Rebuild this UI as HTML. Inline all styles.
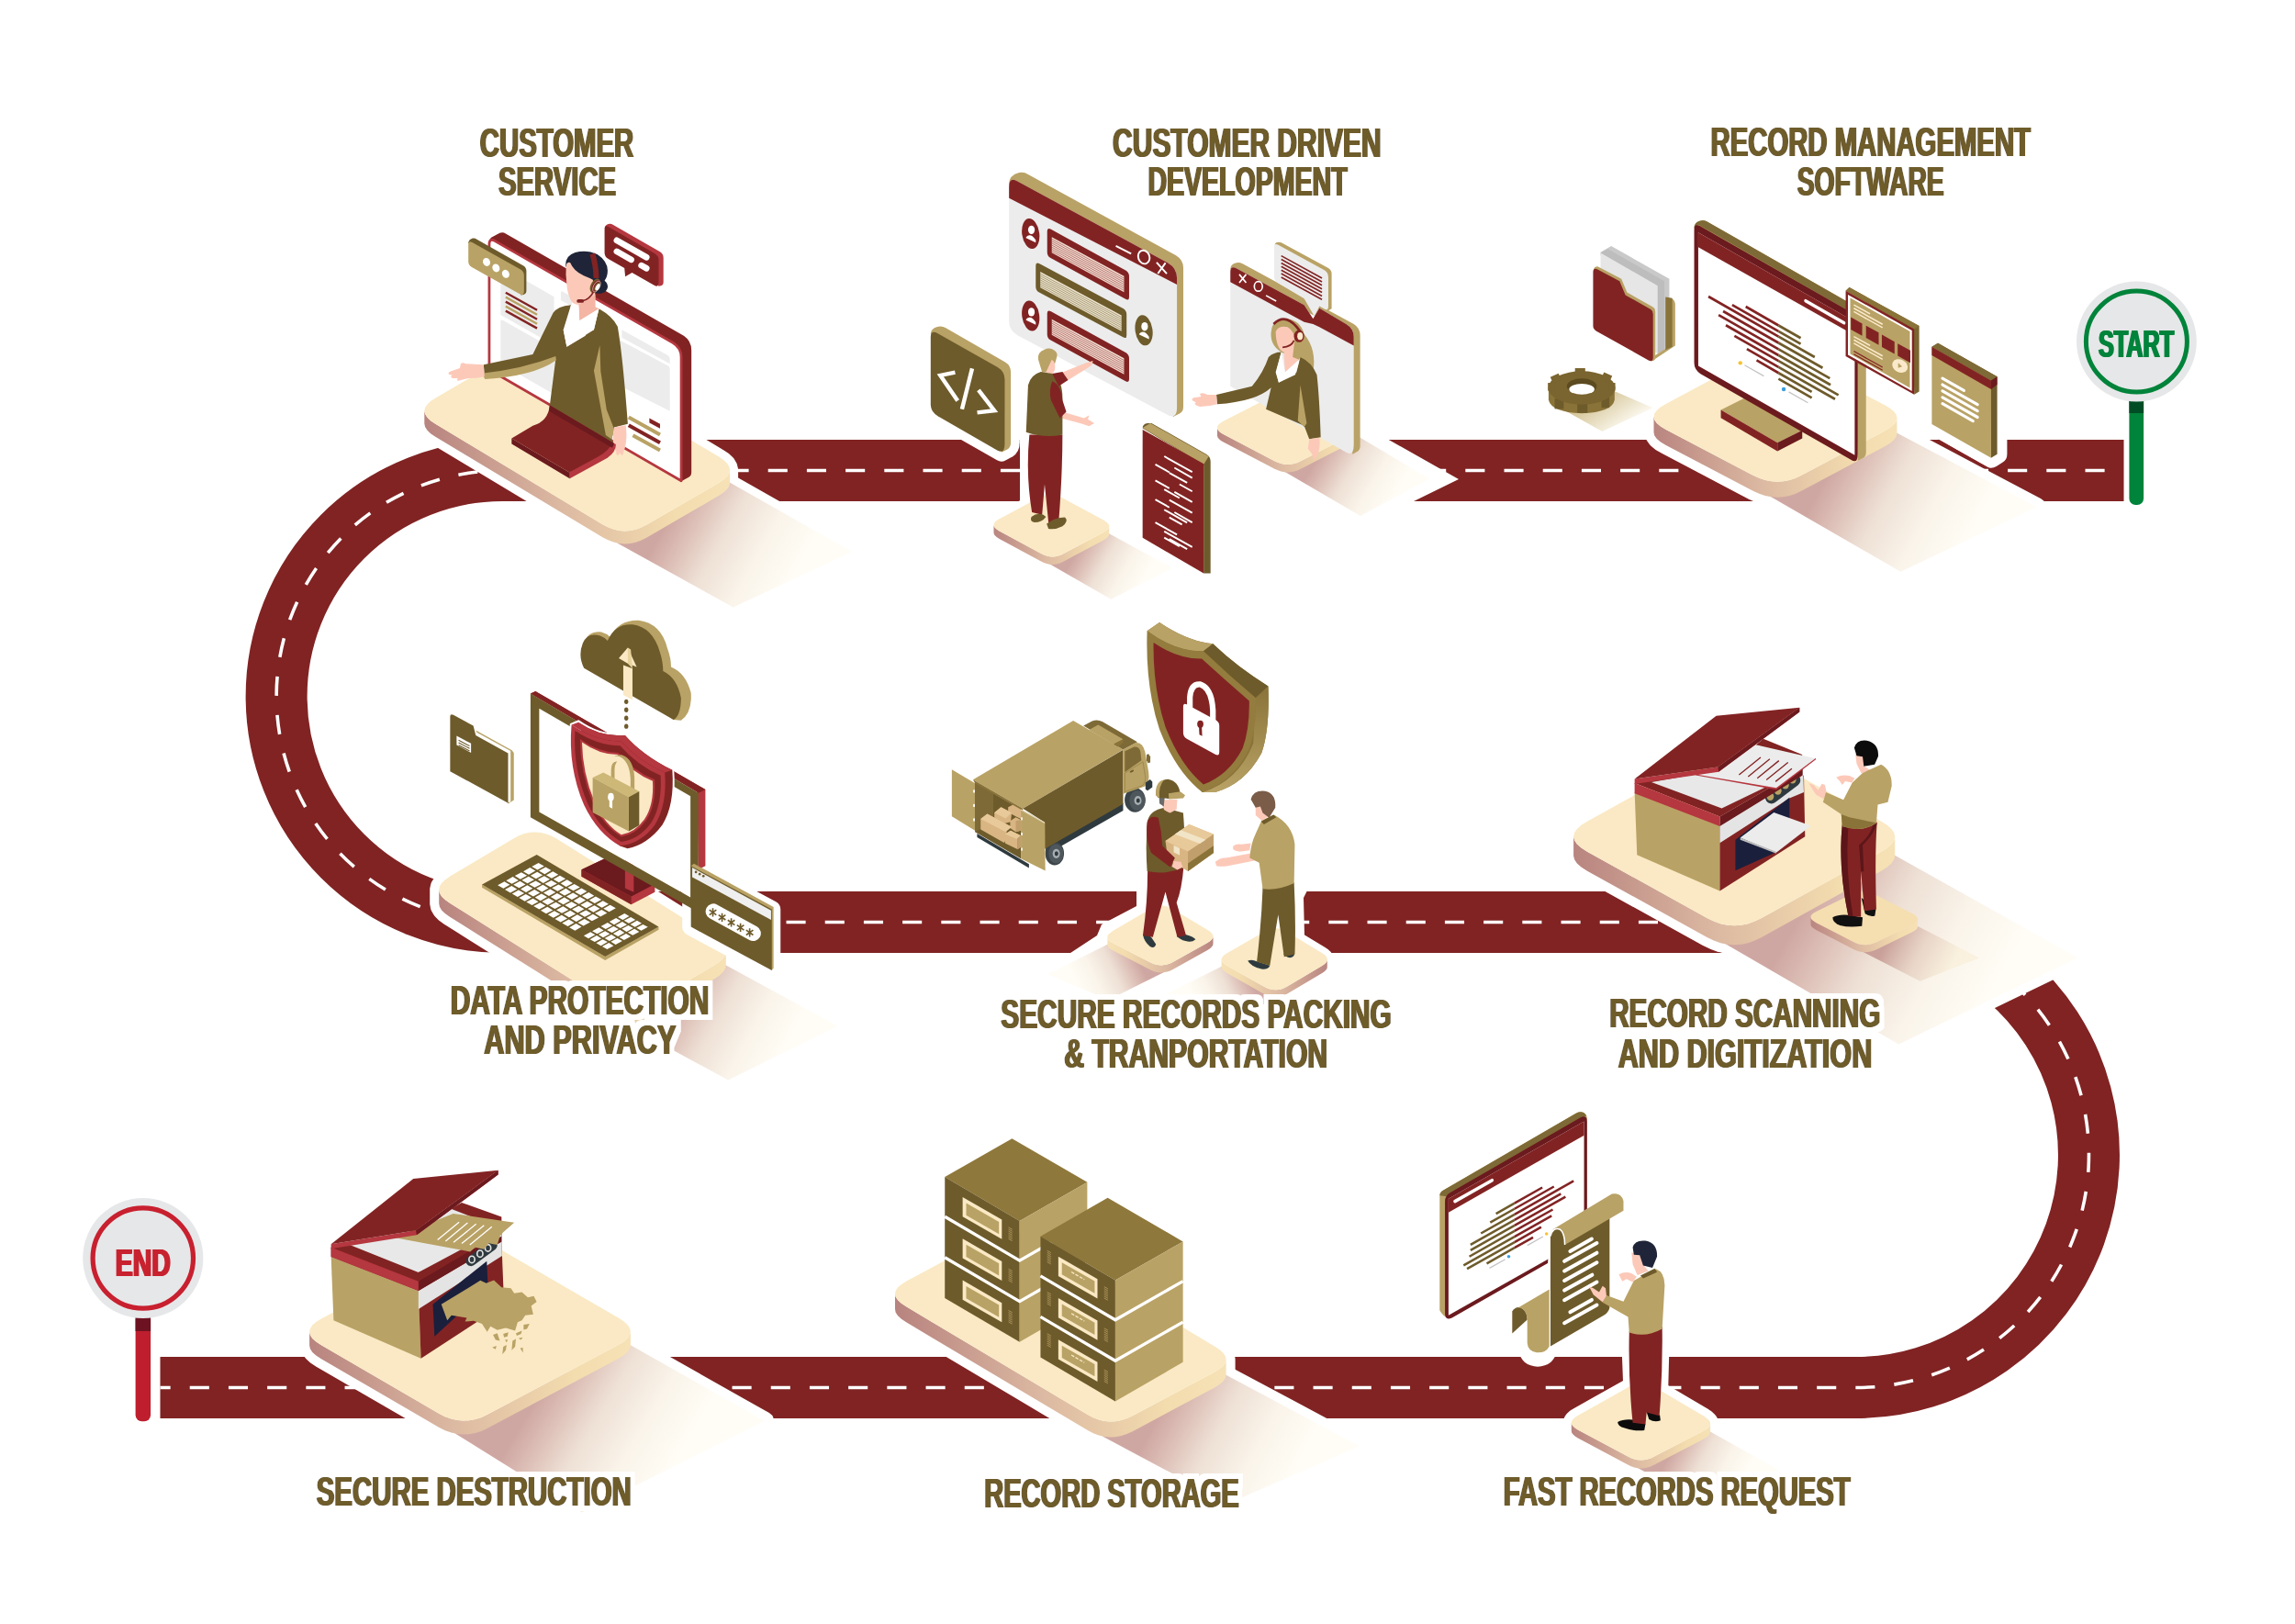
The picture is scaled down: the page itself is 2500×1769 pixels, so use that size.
<!DOCTYPE html>
<html><head><meta charset="utf-8"><title>Records lifecycle</title>
<style>html,body{margin:0;padding:0;background:#fff}svg{display:block}text{font-family:"Liberation Sans",sans-serif;font-weight:bold}</style>
</head><body>
<svg width="2500" height="1769" viewBox="0 0 2500 1769">
<defs>
<filter id="lbl" x="-5%" y="-40%" width="110%" height="180%"><feMorphology in="SourceAlpha" operator="dilate" radius="6" result="d"/><feFlood flood-color="#fff"/><feComposite in2="d" operator="in" result="halo"/><feOffset in="SourceGraphic" dx="1.0" result="a"/><feOffset in="SourceGraphic" dx="-1.0" result="b"/><feMerge><feMergeNode in="halo"/><feMergeNode in="a"/><feMergeNode in="b"/><feMergeNode in="SourceGraphic"/></feMerge></filter>
<filter id="fat" x="-5%" y="-20%" width="110%" height="140%"><feOffset in="SourceGraphic" dx="1" result="a"/><feOffset in="SourceGraphic" dx="-1" result="b"/><feMerge><feMergeNode in="a"/><feMergeNode in="b"/><feMergeNode in="SourceGraphic"/></feMerge></filter>
<linearGradient id="pg1" gradientUnits="userSpaceOnUse" x1="450" y1="0" x2="807" y2="0"><stop offset="0" stop-color="#b57f7c"/><stop offset="0.45" stop-color="#dcb9a2"/><stop offset="0.8" stop-color="#f3dcae"/><stop offset="1" stop-color="#f7e3b8"/></linearGradient>
<linearGradient id="sg1" gradientUnits="userSpaceOnUse" x1="733" y1="558" x2="863" y2="631"><stop offset="0" stop-color="#cfa7a2"/><stop offset="0.15" stop-color="#dbbcb4"/><stop offset="0.4" stop-color="#eee0d5"/><stop offset="0.7" stop-color="#faf4ea"/><stop offset="1" stop-color="#fffdf6"/></linearGradient>
<linearGradient id="pg2" gradientUnits="userSpaceOnUse" x1="1076" y1="0" x2="1214" y2="0"><stop offset="0" stop-color="#b57f7c"/><stop offset="0.45" stop-color="#dcb9a2"/><stop offset="0.8" stop-color="#f3dcae"/><stop offset="1" stop-color="#f7e3b8"/></linearGradient>
<linearGradient id="sg2" gradientUnits="userSpaceOnUse" x1="1175" y1="597" x2="1244" y2="636"><stop offset="0" stop-color="#cfa7a2"/><stop offset="0.15" stop-color="#dbbcb4"/><stop offset="0.4" stop-color="#eee0d5"/><stop offset="0.7" stop-color="#faf4ea"/><stop offset="1" stop-color="#fffdf6"/></linearGradient>
<linearGradient id="pg3" gradientUnits="userSpaceOnUse" x1="1319" y1="0" x2="1486" y2="0"><stop offset="0" stop-color="#b57f7c"/><stop offset="0.45" stop-color="#dcb9a2"/><stop offset="0.8" stop-color="#f3dcae"/><stop offset="1" stop-color="#f7e3b8"/></linearGradient>
<linearGradient id="sg3" gradientUnits="userSpaceOnUse" x1="1438" y1="494" x2="1519" y2="542"><stop offset="0" stop-color="#cfa7a2"/><stop offset="0.15" stop-color="#dbbcb4"/><stop offset="0.4" stop-color="#eee0d5"/><stop offset="0.7" stop-color="#faf4ea"/><stop offset="1" stop-color="#fffdf6"/></linearGradient>
<linearGradient id="pg4" gradientUnits="userSpaceOnUse" x1="1788" y1="0" x2="2080" y2="0"><stop offset="0" stop-color="#b57f7c"/><stop offset="0.45" stop-color="#dcb9a2"/><stop offset="0.8" stop-color="#f3dcae"/><stop offset="1" stop-color="#f7e3b8"/></linearGradient>
<linearGradient id="sg4" gradientUnits="userSpaceOnUse" x1="1997" y1="506" x2="2145" y2="587"><stop offset="0" stop-color="#cfa7a2"/><stop offset="0.15" stop-color="#dbbcb4"/><stop offset="0.4" stop-color="#eee0d5"/><stop offset="0.7" stop-color="#faf4ea"/><stop offset="1" stop-color="#fffdf6"/></linearGradient>
<linearGradient id="pg5" gradientUnits="userSpaceOnUse" x1="466" y1="0" x2="803" y2="0"><stop offset="0" stop-color="#b57f7c"/><stop offset="0.45" stop-color="#dcb9a2"/><stop offset="0.8" stop-color="#f3dcae"/><stop offset="1" stop-color="#f7e3b8"/></linearGradient>
<linearGradient id="sg5" gradientUnits="userSpaceOnUse" x1="734" y1="1082" x2="853" y2="1147"><stop offset="0" stop-color="#cfa7a2"/><stop offset="0.15" stop-color="#dbbcb4"/><stop offset="0.4" stop-color="#eee0d5"/><stop offset="0.7" stop-color="#faf4ea"/><stop offset="1" stop-color="#fffdf6"/></linearGradient>
<linearGradient id="pg6" gradientUnits="userSpaceOnUse" x1="1328" y1="0" x2="1200" y2="0"><stop offset="0" stop-color="#b57f7c"/><stop offset="0.45" stop-color="#dcb9a2"/><stop offset="0.8" stop-color="#f3dcae"/><stop offset="1" stop-color="#f7e3b8"/></linearGradient>
<linearGradient id="sg6" gradientUnits="userSpaceOnUse" x1="1238" y1="1043" x2="1174" y2="1075"><stop offset="0" stop-color="#cfa7a2"/><stop offset="0.15" stop-color="#dbbcb4"/><stop offset="0.4" stop-color="#eee0d5"/><stop offset="0.7" stop-color="#faf4ea"/><stop offset="1" stop-color="#fffdf6"/></linearGradient>
<linearGradient id="pg7" gradientUnits="userSpaceOnUse" x1="1452" y1="0" x2="1325" y2="0"><stop offset="0" stop-color="#b57f7c"/><stop offset="0.45" stop-color="#dcb9a2"/><stop offset="0.8" stop-color="#f3dcae"/><stop offset="1" stop-color="#f7e3b8"/></linearGradient>
<linearGradient id="sg7" gradientUnits="userSpaceOnUse" x1="1363" y1="1069" x2="1304" y2="1098"><stop offset="0" stop-color="#cfa7a2"/><stop offset="0.15" stop-color="#dbbcb4"/><stop offset="0.4" stop-color="#eee0d5"/><stop offset="0.7" stop-color="#faf4ea"/><stop offset="1" stop-color="#fffdf6"/></linearGradient>
<linearGradient id="pg8" gradientUnits="userSpaceOnUse" x1="1699" y1="0" x2="2079" y2="0"><stop offset="0" stop-color="#b57f7c"/><stop offset="0.45" stop-color="#dcb9a2"/><stop offset="0.8" stop-color="#f3dcae"/><stop offset="1" stop-color="#f7e3b8"/></linearGradient>
<linearGradient id="sg8" gradientUnits="userSpaceOnUse" x1="1971" y1="980" x2="2166" y2="1090"><stop offset="0" stop-color="#cfa7a2"/><stop offset="0.15" stop-color="#dbbcb4"/><stop offset="0.4" stop-color="#eee0d5"/><stop offset="0.7" stop-color="#faf4ea"/><stop offset="1" stop-color="#fffdf6"/></linearGradient>
<linearGradient id="pg9" gradientUnits="userSpaceOnUse" x1="1966" y1="0" x2="2095" y2="0"><stop offset="0" stop-color="#b57f7c"/><stop offset="0.45" stop-color="#dcb9a2"/><stop offset="0.8" stop-color="#f3dcae"/><stop offset="1" stop-color="#f7e3b8"/></linearGradient>
<linearGradient id="sg9" gradientUnits="userSpaceOnUse" x1="2058" y1="1022" x2="2124" y2="1056"><stop offset="0" stop-color="#b98580" stop-opacity="0.7"/><stop offset="0.5" stop-color="#dcbfae" stop-opacity="0.5"/><stop offset="1" stop-color="#f8ecd2" stop-opacity="0.55"/></linearGradient>
<linearGradient id="pg10" gradientUnits="userSpaceOnUse" x1="1705" y1="0" x2="1870" y2="0"><stop offset="0" stop-color="#b57f7c"/><stop offset="0.45" stop-color="#dcb9a2"/><stop offset="0.8" stop-color="#f3dcae"/><stop offset="1" stop-color="#f7e3b8"/></linearGradient>
<linearGradient id="sg10" gradientUnits="userSpaceOnUse" x1="1822" y1="1579" x2="1895" y2="1619"><stop offset="0" stop-color="#cfa7a2"/><stop offset="0.15" stop-color="#dbbcb4"/><stop offset="0.4" stop-color="#eee0d5"/><stop offset="0.7" stop-color="#faf4ea"/><stop offset="1" stop-color="#fffdf6"/></linearGradient>
<linearGradient id="pg11" gradientUnits="userSpaceOnUse" x1="963" y1="0" x2="1348" y2="0"><stop offset="0" stop-color="#b57f7c"/><stop offset="0.45" stop-color="#dcb9a2"/><stop offset="0.8" stop-color="#f3dcae"/><stop offset="1" stop-color="#f7e3b8"/></linearGradient>
<linearGradient id="sg11" gradientUnits="userSpaceOnUse" x1="1268" y1="1531" x2="1409" y2="1606"><stop offset="0" stop-color="#cfa7a2"/><stop offset="0.15" stop-color="#dbbcb4"/><stop offset="0.4" stop-color="#eee0d5"/><stop offset="0.7" stop-color="#faf4ea"/><stop offset="1" stop-color="#fffdf6"/></linearGradient>
<linearGradient id="pg12" gradientUnits="userSpaceOnUse" x1="324" y1="0" x2="700" y2="0"><stop offset="0" stop-color="#b57f7c"/><stop offset="0.45" stop-color="#dcb9a2"/><stop offset="0.8" stop-color="#f3dcae"/><stop offset="1" stop-color="#f7e3b8"/></linearGradient>
<linearGradient id="sg12" gradientUnits="userSpaceOnUse" x1="591" y1="1513" x2="733" y2="1598"><stop offset="0" stop-color="#cfa7a2"/><stop offset="0.15" stop-color="#dbbcb4"/><stop offset="0.4" stop-color="#eee0d5"/><stop offset="0.7" stop-color="#faf4ea"/><stop offset="1" stop-color="#fffdf6"/></linearGradient>
<linearGradient id="shg" x1="0" y1="0" x2="0" y2="1"><stop offset="0" stop-color="#8a7338"/><stop offset="1" stop-color="#b9a265"/></linearGradient>
<linearGradient id="gearsh" x1="0.2" y1="0.2" x2="0.9" y2="0.7"><stop offset="0" stop-color="#c9b57e"/><stop offset="1" stop-color="#fffdf6"/></linearGradient>

</defs>
<rect width="2500" height="1769" fill="#fff"/>
<g fill="none" stroke="#812323" stroke-width="67">
<path d="M2313.5 512.5 H547 A246 246 0 0 0 547 1004.5 H1900"/><path d="M2184.9 1063.8 A253.5 253.5 0 0 1 2022 1511.5 H174.5"/>
</g>
<g fill="none" stroke="#fff" stroke-width="3.6" stroke-dasharray="21.1 21.1">
<path d="M2313.5 512.5 H547 A246 246 0 0 0 547 1004.5 H1900" stroke-dashoffset="-20.9"/><path d="M2184.9 1063.8 A253.5 253.5 0 0 1 2022 1511.5 H174.5" stroke-dashoffset="-8"/>
</g>
<path d="M1111 470 H1498 L1511 478 L1589 522 L1538 547 L1525 555 H1111 Z" fill="#fff"/>
<path d="M1238 960 L1238 987 L1200 1007 L1195 1019 L1160 1042 L1456 1042 L1421 1019 L1420 978 L1429 960 Z" fill="#fff"/>

<g id="start">
<rect x="2319.4" y="430" width="15.7" height="120" rx="7" fill="#00833a"/>
<rect x="2319.4" y="430" width="15.7" height="20" fill="#004d25"/>
<circle cx="2327.4" cy="372" r="65.4" fill="#e6e7e8"/>
<circle cx="2327.4" cy="372" r="55" fill="none" stroke="#00833a" stroke-width="5"/>
<text x="2286" y="388.5" font-size="42" textLength="82" lengthAdjust="spacingAndGlyphs" fill="#00833a" filter="url(#fat)">START</text>
</g>
<g id="end">
<rect x="147.6" y="1430" width="16.5" height="118.3" rx="7" fill="#be1e2d"/>
<rect x="147.6" y="1430" width="16.5" height="20" fill="#6d1220"/>
<circle cx="155.8" cy="1370.5" r="65.6" fill="#e6e7e8"/>
<circle cx="155.8" cy="1370.5" r="54.7" fill="none" stroke="#c8202f" stroke-width="5.2"/>
<text x="125.7" y="1389.7" font-size="42" textLength="60" lengthAdjust="spacingAndGlyphs" fill="#c8202f" filter="url(#fat)">END</text>
</g>

<path d="M474.3 461.8 L469.0 458.2 L465.3 454.6 L463.1 451.1 L462.3 447.5 L463.1 443.9 L465.4 440.4 L469.2 436.9 L474.5 433.4 L552.8 388.0 L558.8 385.0 L564.9 382.8 L570.9 381.5 L576.9 381.1 L583.0 381.6 L589.0 383.0 L595.0 385.2 L601.0 388.4 L783.1 497.6 L788.4 501.2 L792.1 504.8 L794.3 508.4 L795.1 511.9 L794.3 515.5 L792.0 519.0 L788.2 522.5 L782.9 526.1 L704.6 571.5 L698.6 574.6 L692.5 576.8 L686.5 578.1 L680.5 578.5 L674.4 578.0 L668.4 576.6 L662.4 574.3 L656.4 571.2Z M795.1 525.9 L794.3 529.5 L792.0 533.0 L788.2 536.5 L782.9 540.1 L704.6 585.5 L698.6 588.6 L692.5 590.8 L686.5 592.1 L680.5 592.5 L674.4 592.0 L668.4 590.6 L662.4 588.3 L656.4 585.2 L474.3 475.8 L469.0 472.2 L465.3 468.6 L463.1 465.1 L462.3 461.5 L462.3 447.5 L463.1 451.1 L465.3 454.6 L469.0 458.2 L474.3 461.8 L656.4 571.2 L662.4 574.3 L668.4 576.6 L674.4 578.0 L680.5 578.5 L686.5 578.1 L692.5 576.8 L698.6 574.6 L704.6 571.5 L782.9 526.1 L788.2 522.5 L792.0 519.0 L794.3 515.5 L795.1 511.9Z" fill="#fff" stroke="#fff" stroke-width="18" stroke-linejoin="round"/>
<path d="M794.0 525.0 L928.0 601.0 L798.8 661.6 L672.3 591.6Z" fill="#fff" stroke="#fff" stroke-width="18" stroke-linejoin="round"/>
<path d="M1088.7 578.5 L1086.0 576.8 L1084.0 575.1 L1082.9 573.5 L1082.5 571.8 L1082.9 570.1 L1084.0 568.5 L1086.0 566.8 L1088.7 565.2 L1132.0 541.9 L1135.0 540.5 L1138.1 539.4 L1141.2 538.8 L1144.3 538.6 L1147.4 538.8 L1150.5 539.5 L1153.5 540.5 L1156.6 542.0 L1202.1 566.6 L1204.7 568.3 L1206.7 570.0 L1207.8 571.6 L1208.2 573.3 L1207.8 574.9 L1206.7 576.6 L1204.7 578.3 L1202.0 579.9 L1158.7 603.1 L1155.7 604.5 L1152.6 605.6 L1149.5 606.2 L1146.4 606.4 L1143.3 606.2 L1140.2 605.5 L1137.2 604.5 L1134.1 603.0Z M1208.2 581.8 L1207.8 583.4 L1206.7 585.1 L1204.7 586.8 L1202.0 588.4 L1158.7 611.6 L1155.7 613.0 L1152.6 614.1 L1149.5 614.7 L1146.4 614.9 L1143.3 614.7 L1140.2 614.0 L1137.2 613.0 L1134.1 611.5 L1088.7 587.0 L1086.0 585.3 L1084.0 583.6 L1082.9 582.0 L1082.5 580.3 L1082.5 571.8 L1082.9 573.5 L1084.0 575.1 L1086.0 576.8 L1088.7 578.5 L1134.1 603.0 L1137.2 604.5 L1140.2 605.5 L1143.3 606.2 L1146.4 606.4 L1149.5 606.2 L1152.6 605.6 L1155.7 604.5 L1158.7 603.1 L1202.0 579.9 L1204.7 578.3 L1206.7 576.6 L1207.8 574.9 L1208.2 573.3Z" fill="#fff" stroke="#fff" stroke-width="14" stroke-linejoin="round"/>
<path d="M1207.3 580.8 L1277.3 618.8 L1210.3 652.7 L1142.3 613.7Z" fill="#fff" stroke="#fff" stroke-width="14" stroke-linejoin="round"/>
<path d="M1333.1 473.3 L1330.0 471.5 L1327.7 469.6 L1326.4 467.8 L1326.0 465.9 L1326.4 464.1 L1327.8 462.3 L1330.0 460.4 L1333.1 458.6 L1388.0 430.6 L1391.5 429.0 L1395.1 427.9 L1398.6 427.2 L1402.2 427.0 L1405.7 427.2 L1409.3 427.9 L1412.8 429.1 L1416.4 430.7 L1471.7 459.6 L1474.8 461.4 L1477.1 463.3 L1478.4 465.1 L1478.8 467.0 L1478.4 468.8 L1477.0 470.6 L1474.8 472.5 L1471.7 474.3 L1416.8 502.3 L1413.3 503.9 L1409.7 505.0 L1406.2 505.7 L1402.6 505.9 L1399.1 505.7 L1395.5 505.0 L1392.0 503.8 L1388.4 502.2Z M1478.8 475.5 L1478.4 477.3 L1477.0 479.1 L1474.8 481.0 L1471.7 482.8 L1416.8 510.8 L1413.3 512.4 L1409.7 513.5 L1406.2 514.2 L1402.6 514.4 L1399.1 514.2 L1395.5 513.5 L1392.0 512.3 L1388.4 510.7 L1333.1 481.8 L1330.0 480.0 L1327.7 478.1 L1326.4 476.3 L1326.0 474.4 L1326.0 465.9 L1326.4 467.8 L1327.7 469.6 L1330.0 471.5 L1333.1 473.3 L1388.4 502.2 L1392.0 503.8 L1395.5 505.0 L1399.1 505.7 L1402.6 505.9 L1406.2 505.7 L1409.7 505.0 L1413.3 503.9 L1416.8 502.3 L1471.7 474.3 L1474.8 472.5 L1477.0 470.6 L1478.4 468.8 L1478.8 467.0Z" fill="#fff" stroke="#fff" stroke-width="14" stroke-linejoin="round"/>
<path d="M1478.0 474.5 L1557.0 521.5 L1482.0 562.1 L1398.0 513.1Z" fill="#fff" stroke="#fff" stroke-width="14" stroke-linejoin="round"/>
<path d="M1814.8 467.9 L1809.0 464.5 L1804.8 461.0 L1802.3 457.5 L1801.5 454.0 L1802.3 450.4 L1804.8 446.9 L1808.9 443.4 L1814.7 439.9 L1905.2 391.6 L1911.8 388.5 L1918.5 386.3 L1925.1 385.0 L1931.7 384.5 L1938.4 384.9 L1945.0 386.2 L1951.6 388.4 L1958.3 391.4 L2053.1 441.3 L2058.9 444.7 L2063.1 448.2 L2065.6 451.7 L2066.4 455.2 L2065.6 458.8 L2063.1 462.3 L2059.0 465.8 L2053.2 469.3 L1962.7 517.6 L1956.1 520.7 L1949.4 522.9 L1942.8 524.2 L1936.2 524.7 L1929.5 524.3 L1922.9 523.0 L1916.3 520.8 L1909.6 517.8Z M2066.4 472.2 L2065.6 475.8 L2063.1 479.3 L2059.0 482.8 L2053.2 486.3 L1962.7 534.6 L1956.1 537.7 L1949.4 539.9 L1942.8 541.2 L1936.2 541.7 L1929.5 541.3 L1922.9 540.0 L1916.3 537.8 L1909.6 534.8 L1814.8 484.9 L1809.0 481.5 L1804.8 478.0 L1802.3 474.5 L1801.5 471.0 L1801.5 454.0 L1802.3 457.5 L1804.8 461.0 L1809.0 464.5 L1814.8 467.9 L1909.6 517.8 L1916.3 520.8 L1922.9 523.0 L1929.5 524.3 L1936.2 524.7 L1942.8 524.2 L1949.4 522.9 L1956.1 520.7 L1962.7 517.6 L2053.2 469.3 L2059.0 465.8 L2063.1 462.3 L2065.6 458.8 L2066.4 455.2Z" fill="#fff" stroke="#fff" stroke-width="20" stroke-linejoin="round"/>
<path d="M2065.7 471.2 L2218.7 552.2 L2070.5 622.7 L1927.5 540.2Z" fill="#fff" stroke="#fff" stroke-width="20" stroke-linejoin="round"/>
<path d="M490.0 983.8 L484.8 980.1 L481.1 976.4 L478.9 972.7 L478.2 969.0 L479.0 965.4 L481.3 961.8 L485.1 958.2 L490.3 954.6 L559.3 913.4 L565.3 910.3 L571.3 908.1 L577.2 906.8 L583.2 906.4 L589.2 906.9 L595.1 908.4 L601.1 910.7 L607.0 914.0 L779.0 1021.8 L784.2 1025.5 L787.9 1029.2 L790.1 1032.9 L790.8 1036.6 L790.0 1040.2 L787.7 1043.8 L783.9 1047.5 L778.7 1051.1 L709.7 1092.2 L703.7 1095.4 L697.7 1097.6 L691.8 1098.9 L685.8 1099.3 L679.8 1098.8 L673.9 1097.3 L667.9 1095.0 L662.0 1091.7Z M790.8 1051.6 L790.0 1055.2 L787.7 1058.8 L783.9 1062.5 L778.7 1066.1 L709.7 1107.2 L703.7 1110.4 L697.7 1112.6 L691.8 1113.9 L685.8 1114.3 L679.8 1113.8 L673.9 1112.3 L667.9 1110.0 L662.0 1106.7 L490.0 998.8 L484.8 995.1 L481.1 991.4 L478.9 987.7 L478.2 984.0 L478.2 969.0 L478.9 972.7 L481.1 976.4 L484.8 980.1 L490.0 983.8 L662.0 1091.7 L667.9 1095.0 L673.9 1097.3 L679.8 1098.8 L685.8 1099.3 L691.8 1098.9 L697.7 1097.6 L703.7 1095.4 L709.7 1092.2 L778.7 1051.1 L783.9 1047.5 L787.7 1043.8 L790.0 1040.2 L790.8 1036.6Z" fill="#fff" stroke="#fff" stroke-width="20" stroke-linejoin="round"/>
<path d="M789.6 1050.7 L912.6 1117.7 L793.2 1176.6 L677.6 1113.6Z" fill="#fff" stroke="#fff" stroke-width="20" stroke-linejoin="round"/>
<path d="M1212.7 1027.6 L1210.0 1026.0 L1208.0 1024.4 L1206.8 1022.7 L1206.4 1021.0 L1206.7 1019.3 L1207.8 1017.6 L1209.7 1015.9 L1212.3 1014.1 L1253.3 990.1 L1256.3 988.5 L1259.4 987.4 L1262.4 986.8 L1265.4 986.6 L1268.4 986.8 L1271.4 987.5 L1274.4 988.6 L1277.4 990.2 L1315.5 1013.0 L1318.2 1014.8 L1320.0 1016.6 L1321.1 1018.3 L1321.5 1020.1 L1321.1 1021.8 L1319.9 1023.6 L1318.0 1025.3 L1315.3 1027.0 L1277.6 1047.9 L1274.6 1049.4 L1271.5 1050.5 L1268.4 1051.1 L1265.3 1051.4 L1262.3 1051.2 L1259.2 1050.7 L1256.1 1049.7 L1252.9 1048.3Z M1321.5 1028.1 L1321.1 1029.8 L1319.9 1031.6 L1318.0 1033.3 L1315.3 1035.0 L1277.6 1055.9 L1274.6 1057.4 L1271.5 1058.5 L1268.4 1059.1 L1265.3 1059.4 L1262.3 1059.2 L1259.2 1058.7 L1256.1 1057.7 L1252.9 1056.3 L1212.7 1035.6 L1210.0 1034.0 L1208.0 1032.4 L1206.8 1030.7 L1206.4 1029.0 L1206.4 1021.0 L1206.8 1022.7 L1208.0 1024.4 L1210.0 1026.0 L1212.7 1027.6 L1252.9 1048.3 L1256.1 1049.7 L1259.2 1050.7 L1262.3 1051.2 L1265.3 1051.4 L1268.4 1051.1 L1271.5 1050.5 L1274.6 1049.4 L1277.6 1047.9 L1315.3 1027.0 L1318.0 1025.3 L1319.9 1023.6 L1321.1 1021.8 L1321.5 1020.1Z" fill="#fff" stroke="#fff" stroke-width="14" stroke-linejoin="round"/>
<path d="M1207.3 1028.2 L1141.3 1061.2 L1207.4 1089.2 L1269.5 1058.2Z" fill="#fff" stroke="#fff" stroke-width="14" stroke-linejoin="round"/>
<path d="M1336.7 1052.1 L1334.1 1050.3 L1332.2 1048.6 L1331.0 1046.9 L1330.6 1045.2 L1331.0 1043.4 L1332.1 1041.7 L1334.0 1040.0 L1336.7 1038.2 L1377.6 1014.7 L1380.6 1013.2 L1383.6 1012.1 L1386.6 1011.4 L1389.7 1011.3 L1392.7 1011.5 L1395.7 1012.2 L1398.7 1013.3 L1401.7 1014.9 L1439.9 1038.0 L1442.5 1039.8 L1444.4 1041.6 L1445.5 1043.4 L1445.8 1045.2 L1445.5 1047.0 L1444.3 1048.7 L1442.4 1050.5 L1439.8 1052.3 L1401.8 1074.7 L1398.7 1076.3 L1395.7 1077.4 L1392.7 1078.1 L1389.7 1078.3 L1386.6 1078.1 L1383.6 1077.5 L1380.5 1076.4 L1377.5 1074.9Z M1445.8 1053.2 L1445.5 1055.0 L1444.3 1056.7 L1442.4 1058.5 L1439.8 1060.3 L1401.8 1082.7 L1398.7 1084.3 L1395.7 1085.4 L1392.7 1086.1 L1389.7 1086.3 L1386.6 1086.1 L1383.6 1085.5 L1380.5 1084.4 L1377.5 1082.9 L1336.7 1060.1 L1334.1 1058.3 L1332.2 1056.6 L1331.0 1054.9 L1330.6 1053.2 L1330.6 1045.2 L1331.0 1046.9 L1332.2 1048.6 L1334.1 1050.3 L1336.7 1052.1 L1377.5 1074.9 L1380.5 1076.4 L1383.6 1077.5 L1386.6 1078.1 L1389.7 1078.3 L1392.7 1078.1 L1395.7 1077.4 L1398.7 1076.3 L1401.8 1074.7 L1439.8 1052.3 L1442.4 1050.5 L1444.3 1048.7 L1445.5 1047.0 L1445.8 1045.2Z" fill="#fff" stroke="#fff" stroke-width="14" stroke-linejoin="round"/>
<path d="M1331.6 1052.2 L1271.6 1082.2 L1337.4 1113.5 L1393.8 1085.3Z" fill="#fff" stroke="#fff" stroke-width="14" stroke-linejoin="round"/>
<path d="M1729.0 927.7 L1722.5 923.6 L1717.9 919.4 L1715.1 915.3 L1714.1 911.2 L1715.1 907.1 L1717.9 903.0 L1722.5 898.8 L1729.0 894.7 L1859.5 822.5 L1866.9 818.9 L1874.3 816.3 L1881.8 814.8 L1889.2 814.2 L1896.6 814.8 L1904.1 816.3 L1911.5 818.9 L1918.9 822.5 L2049.3 894.7 L2055.8 898.8 L2060.4 903.0 L2063.2 907.1 L2064.2 911.2 L2063.2 915.3 L2060.4 919.4 L2055.8 923.6 L2049.3 927.7 L1918.9 1000.0 L1911.5 1003.6 L1904.1 1006.2 L1896.6 1007.7 L1889.2 1008.3 L1881.8 1007.7 L1874.3 1006.2 L1866.9 1003.6 L1859.5 1000.0Z M2064.2 932.2 L2063.2 936.3 L2060.4 940.4 L2055.8 944.6 L2049.3 948.7 L1918.9 1021.0 L1911.5 1024.6 L1904.1 1027.2 L1896.6 1028.7 L1889.2 1029.3 L1881.8 1028.7 L1874.3 1027.2 L1866.9 1024.6 L1859.5 1021.0 L1729.0 948.7 L1722.5 944.6 L1717.9 940.4 L1715.1 936.3 L1714.1 932.2 L1714.1 911.2 L1715.1 915.3 L1717.9 919.4 L1722.5 923.6 L1729.0 927.7 L1859.5 1000.0 L1866.9 1003.6 L1874.3 1006.2 L1881.8 1007.7 L1889.2 1008.3 L1896.6 1007.7 L1904.1 1006.2 L1911.5 1003.6 L1918.9 1000.0 L2049.3 927.7 L2055.8 923.6 L2060.4 919.4 L2063.2 915.3 L2064.2 911.2Z" fill="#fff" stroke="#fff" stroke-width="20" stroke-linejoin="round"/>
<path d="M2063.3 931.2 L2263.3 1043.2 L2068.3 1137.5 L1879.3 1028.0Z" fill="#fff" stroke="#fff" stroke-width="20" stroke-linejoin="round"/>
<path d="M1718.9 1557.4 L1715.8 1555.5 L1713.6 1553.6 L1712.2 1551.7 L1711.8 1549.7 L1712.2 1547.8 L1713.5 1545.9 L1715.7 1543.9 L1718.7 1542.0 L1774.7 1510.6 L1778.2 1508.9 L1781.7 1507.7 L1785.2 1507.0 L1788.7 1506.8 L1792.1 1507.1 L1795.6 1507.9 L1799.0 1509.2 L1802.5 1511.0 L1856.4 1542.8 L1859.4 1544.9 L1861.5 1546.9 L1862.8 1548.9 L1863.1 1550.8 L1862.7 1552.7 L1861.3 1554.7 L1859.1 1556.5 L1855.9 1558.4 L1801.6 1586.8 L1798.0 1588.4 L1794.5 1589.6 L1791.0 1590.2 L1787.4 1590.5 L1783.9 1590.2 L1780.4 1589.5 L1776.8 1588.3 L1773.3 1586.6Z M1863.1 1559.8 L1862.7 1561.7 L1861.3 1563.7 L1859.1 1565.5 L1855.9 1567.4 L1801.6 1595.8 L1798.0 1597.4 L1794.5 1598.6 L1791.0 1599.2 L1787.4 1599.5 L1783.9 1599.2 L1780.4 1598.5 L1776.8 1597.3 L1773.3 1595.6 L1718.9 1566.4 L1715.8 1564.5 L1713.6 1562.6 L1712.2 1560.7 L1711.8 1558.7 L1711.8 1549.7 L1712.2 1551.7 L1713.6 1553.6 L1715.8 1555.5 L1718.9 1557.4 L1773.3 1586.6 L1776.8 1588.3 L1780.4 1589.5 L1783.9 1590.2 L1787.4 1590.5 L1791.0 1590.2 L1794.5 1589.6 L1798.0 1588.4 L1801.6 1586.8 L1855.9 1558.4 L1859.1 1556.5 L1861.3 1554.7 L1862.7 1552.7 L1863.1 1550.8Z" fill="#fff" stroke="#fff" stroke-width="18" stroke-linejoin="round"/>
<path d="M1862.2 1559.0 L1937.2 1601.0 L1853.3 1637.7 L1782.8 1598.2Z" fill="#fff" stroke="#fff" stroke-width="18" stroke-linejoin="round"/>
<path d="M986.8 1423.1 L981.6 1419.6 L977.9 1416.0 L975.6 1412.5 L975.0 1409.1 L975.8 1405.7 L978.2 1402.3 L982.1 1398.9 L987.5 1395.6 L1076.9 1347.8 L1083.1 1344.9 L1089.2 1342.9 L1095.3 1341.8 L1101.4 1341.5 L1107.5 1342.1 L1113.6 1343.5 L1119.6 1345.8 L1125.7 1348.9 L1323.8 1466.9 L1329.0 1470.4 L1332.7 1474.0 L1335.0 1477.5 L1335.6 1480.9 L1334.8 1484.3 L1332.4 1487.7 L1328.5 1491.1 L1323.1 1494.4 L1233.7 1542.2 L1227.5 1545.1 L1221.4 1547.1 L1215.3 1548.2 L1209.2 1548.5 L1203.1 1547.9 L1197.0 1546.5 L1191.0 1544.2 L1184.9 1541.1Z M1335.6 1497.9 L1334.8 1501.3 L1332.4 1504.7 L1328.5 1508.1 L1323.1 1511.4 L1233.7 1559.2 L1227.5 1562.1 L1221.4 1564.1 L1215.3 1565.2 L1209.2 1565.5 L1203.1 1564.9 L1197.0 1563.5 L1191.0 1561.2 L1184.9 1558.1 L986.8 1440.1 L981.6 1436.6 L977.9 1433.0 L975.6 1429.5 L975.0 1426.1 L975.0 1409.1 L975.6 1412.5 L977.9 1416.0 L981.6 1419.6 L986.8 1423.1 L1184.9 1541.1 L1191.0 1544.2 L1197.0 1546.5 L1203.1 1547.9 L1209.2 1548.5 L1215.3 1548.2 L1221.4 1547.1 L1227.5 1545.1 L1233.7 1542.2 L1323.1 1494.4 L1328.5 1491.1 L1332.4 1487.7 L1334.8 1484.3 L1335.6 1480.9Z" fill="#fff" stroke="#fff" stroke-width="20" stroke-linejoin="round"/>
<path d="M1334.7 1497.2 L1480.7 1575.2 L1338.1 1637.7 L1200.9 1564.4Z" fill="#fff" stroke="#fff" stroke-width="20" stroke-linejoin="round"/>
<path d="M350.0 1465.3 L344.3 1461.6 L340.3 1457.9 L337.9 1454.2 L337.1 1450.5 L338.0 1446.9 L340.5 1443.3 L344.7 1439.7 L350.5 1436.2 L493.2 1360.3 L499.8 1357.2 L506.4 1355.1 L513.0 1353.8 L519.6 1353.5 L526.1 1354.1 L532.6 1355.5 L539.2 1357.9 L545.6 1361.3 L674.0 1435.7 L679.7 1439.5 L683.7 1443.2 L686.1 1446.9 L686.9 1450.6 L686.0 1454.2 L683.5 1457.8 L679.3 1461.4 L673.5 1464.9 L531.0 1540.8 L524.4 1543.9 L517.8 1546.0 L511.2 1547.3 L504.6 1547.6 L498.1 1547.0 L491.6 1545.6 L485.0 1543.2 L478.5 1539.9Z M686.9 1465.6 L686.0 1469.2 L683.5 1472.8 L679.3 1476.4 L673.5 1479.9 L531.0 1555.8 L524.4 1558.9 L517.8 1561.0 L511.2 1562.3 L504.6 1562.6 L498.1 1562.0 L491.6 1560.6 L485.0 1558.2 L478.5 1554.9 L350.0 1480.3 L344.3 1476.6 L340.3 1472.9 L337.9 1469.2 L337.1 1465.5 L337.1 1450.5 L337.9 1454.2 L340.3 1457.9 L344.3 1461.6 L350.0 1465.3 L478.5 1539.9 L485.0 1543.2 L491.6 1545.6 L498.1 1547.0 L504.6 1547.6 L511.2 1547.3 L517.8 1546.0 L524.4 1543.9 L531.0 1540.8 L673.5 1464.9 L679.3 1461.4 L683.5 1457.8 L686.0 1454.2 L686.9 1450.6Z" fill="#fff" stroke="#fff" stroke-width="20" stroke-linejoin="round"/>
<path d="M686.0 1464.8 L833.0 1547.8 L633.8 1647.4 L495.8 1561.4Z" fill="#fff" stroke="#fff" stroke-width="20" stroke-linejoin="round"/>
<path d="M794.0 525.0 L928.0 601.0 L798.8 661.6 L672.3 591.6Z" fill="url(#sg1)"/>
<path d="M1207.3 580.8 L1277.3 618.8 L1210.3 652.7 L1142.3 613.7Z" fill="url(#sg2)"/>
<path d="M1478.0 474.5 L1557.0 521.5 L1482.0 562.1 L1398.0 513.1Z" fill="url(#sg3)"/>
<path d="M2065.7 471.2 L2218.7 552.2 L2070.5 622.7 L1927.5 540.2Z" fill="url(#sg4)"/>
<path d="M789.6 1050.7 L912.6 1117.7 L793.2 1176.6 L677.6 1113.6Z" fill="url(#sg5)"/>
<path d="M1207.3 1028.2 L1141.3 1061.2 L1207.4 1089.2 L1269.5 1058.2Z" fill="url(#sg6)"/>
<path d="M1331.6 1052.2 L1271.6 1082.2 L1337.4 1113.5 L1393.8 1085.3Z" fill="url(#sg7)"/>
<path d="M2063.3 931.2 L2263.3 1043.2 L2068.3 1137.5 L1879.3 1028.0Z" fill="url(#sg8)"/>
<path d="M2088.2 1008.4 L2156.2 1043.4 L2091.5 1068.8 L2027.5 1035.9Z" fill="url(#sg9)"/>
<path d="M1862.2 1559.0 L1937.2 1601.0 L1853.3 1637.7 L1782.8 1598.2Z" fill="url(#sg10)"/>
<path d="M1334.7 1497.2 L1480.7 1575.2 L1338.1 1637.7 L1200.9 1564.4Z" fill="url(#sg11)"/>
<path d="M686.0 1464.8 L833.0 1547.8 L633.8 1647.4 L495.8 1561.4Z" fill="url(#sg12)"/>

<g><path d="M795.1 525.9 L794.3 529.5 L792.0 533.0 L788.2 536.5 L782.9 540.1 L704.6 585.5 L698.6 588.6 L692.5 590.8 L686.5 592.1 L680.5 592.5 L674.4 592.0 L668.4 590.6 L662.4 588.3 L656.4 585.2 L474.3 475.8 L469.0 472.2 L465.3 468.6 L463.1 465.1 L462.3 461.5 L462.3 447.5 L463.1 451.1 L465.3 454.6 L469.0 458.2 L474.3 461.8 L656.4 571.2 L662.4 574.3 L668.4 576.6 L674.4 578.0 L680.5 578.5 L686.5 578.1 L692.5 576.8 L698.6 574.6 L704.6 571.5 L782.9 526.1 L788.2 522.5 L792.0 519.0 L794.3 515.5 L795.1 511.9Z" fill="url(#pg1)"/><path d="M474.3 461.8 L469.0 458.2 L465.3 454.6 L463.1 451.1 L462.3 447.5 L463.1 443.9 L465.4 440.4 L469.2 436.9 L474.5 433.4 L552.8 388.0 L558.8 385.0 L564.9 382.8 L570.9 381.5 L576.9 381.1 L583.0 381.6 L589.0 383.0 L595.0 385.2 L601.0 388.4 L783.1 497.6 L788.4 501.2 L792.1 504.8 L794.3 508.4 L795.1 511.9 L794.3 515.5 L792.0 519.0 L788.2 522.5 L782.9 526.1 L704.6 571.5 L698.6 574.6 L692.5 576.8 L686.5 578.1 L680.5 578.5 L674.4 578.0 L668.4 576.6 L662.4 574.3 L656.4 571.2Z" fill="#fae9c4"/></g>
<g transform="translate(440,230) scale(0.18476)">
<!-- screen depth -->
<path d="M500 190 Q500 160 530 148 L565 128 Q585 122 600 132 L1650 735 Q1695 765 1695 820 L1695 1540 Q1695 1560 1680 1568 L1635 1592 L1635 830 Z" fill="#822323"/>
<!-- screen face -->
<path d="M503 195 Q503 160 535 175 L1585 775 Q1635 805 1635 860 L1635 1590 L503 935 Z" fill="#fff" stroke="#b5373f" stroke-width="15" stroke-linejoin="round"/>
<!-- grey blocks -->
<g fill="#ececec">
<path d="M570 340 Q570 325 585 333 L885 505 L885 790 L570 612 Z"/>
<path d="M570 650 Q570 636 585 644 L1185 985 L1185 1250 L570 900 Z"/>
<path d="M925 478 Q925 468 935 474 L990 505 L990 560 L925 525 Z"/>
<path d="M1285 700 L1555 850 Q1568 858 1568 872 L1568 900 L1285 745 Z"/>
<path d="M1150 696 L1555 910 Q1568 917 1568 930 L1568 1178 L1150 968 Z"/>
</g>
<!-- stripes left -->
<g stroke-width="13" fill="none">
<path d="M600 480 L785 583" stroke="#822323"/>
<path d="M600 507 L785 610" stroke="#b9a265"/>
<path d="M600 534 L785 637" stroke="#822323"/>
<path d="M600 561 L785 664" stroke="#b9a265"/>
<path d="M600 588 L785 691" stroke="#822323"/>
</g>
<!-- stripes right bottom -->
<g stroke-width="22" fill="none">
<path d="M1325 1215 L1510 1318" stroke="#b9a265"/>
<path d="M1325 1262 L1510 1365" stroke="#822323"/>
<path d="M1350 1322 L1510 1410" stroke="#b9a265"/>
</g>
<path d="M1447 1220 L1510 1255 L1510 1282 L1447 1247 Z" fill="#822323"/>
<!-- tan bubble -->
<path d="M380 190 Q380 170 400 163 L405 160 Q420 158 430 166 L705 322 Q722 333 722 352 L722 470 Q722 488 705 492 L690 495 L690 360 L395 195 Z" fill="#6e5b2b"/>
<path d="M380 195 Q380 172 400 183 L690 345 Q708 357 708 378 L708 470 Q708 502 685 490 L400 330 Q380 318 380 298 Z" fill="#b9a265"/>
<g fill="#fff"><ellipse cx="487" cy="300" rx="21" ry="25" transform="rotate(-25 487 300)"/><ellipse cx="543" cy="335" rx="21" ry="25" transform="rotate(-25 543 335)"/><ellipse cx="600" cy="370" rx="21" ry="25" transform="rotate(-25 600 370)"/></g>
<!-- red bubble -->
<path d="M1185 100 Q1185 82 1205 76 Q1220 72 1232 80 L1510 240 Q1530 252 1530 275 L1530 420 Q1530 436 1515 440 L1500 443 L1490 260 Z" fill="#b5373f"/>
<path d="M1183 105 Q1183 80 1205 92 L1480 250 Q1502 263 1502 288 L1502 420 Q1502 452 1478 438 L1345 362 L1305 385 L1300 336 L1205 282 Q1183 270 1183 245 Z" fill="#822323"/>
<g stroke="#fff" stroke-width="36" stroke-linecap="round" fill="none"><path d="M1255 172 L1430 272"/><path d="M1255 238 L1340 286"/><path d="M1400 320 L1430 337"/></g>
<!-- woman: hair back -->
<path d="M953 320 Q950 262 1010 243 Q1080 225 1140 255 Q1200 295 1201 350 Q1201 385 1183 410 Q1206 428 1200 455 Q1190 482 1160 486 Q1135 488 1118 478 L1080 440 L990 420 Z" fill="#1f2438"/>
<!-- face / neck -->
<path d="M957 314 Q968 296 981 304 Q1000 352 1060 380 Q1095 394 1114 404 L1128 490 L1128 565 L1150 575 L1035 645 L1030 552 Q995 548 985 528 Q962 480 960 430 Q952 370 957 314 Z" fill="#fcc9b9"/>
<path d="M1032 550 L1128 492 L1128 565 L1150 575 L1035 645 Z" fill="#f4b5a4"/>
<!-- headband + headset -->
<path d="M1111 252 Q1132 315 1134 395" stroke="#822323" stroke-width="32" fill="none"/>
<g transform="rotate(28 1130 441)"><ellipse cx="1128" cy="441" rx="27" ry="45" fill="#6e5b2b"/><ellipse cx="1133" cy="441" rx="22" ry="40" fill="#822323"/><ellipse cx="1137" cy="441" rx="18" ry="35" fill="none" stroke="#f4e6e0" stroke-width="3"/><ellipse cx="1141" cy="441" rx="14" ry="27" fill="#6e5b2b"/><ellipse cx="1144" cy="441" rx="11" ry="22" fill="#fff"/></g>
<path d="M1116 478 Q1095 520 1050 530" stroke="#822323" stroke-width="9" fill="none"/>
<rect x="1019" y="519" width="42" height="21" rx="10" fill="#822323"/>
<!-- jacket -->
<path d="M470 905 L760 845 Q830 700 880 600 Q905 560 985 553 L940 700 L960 800 L1120 700 L1150 575 Q1230 620 1260 680 Q1290 850 1320 1255 L1240 1275 L1225 1345 L1240 1370 L860 1145 L895 870 Q760 960 475 975 Z" fill="#6e5b2b"/>
<!-- tan highlights -->
<path d="M468 955 Q700 930 895 855 L897 880 Q760 975 478 990 Q465 975 468 955 Z" fill="#b9a265"/>
<path d="M1155 790 L1160 945 L1195 1170 L1240 1285 L1225 1345 L1190 1320 L1120 940 Z" fill="#b9a265"/>
<!-- collar -->
<path d="M985 553 L1030 560 L1035 645 L1150 575 L1120 700 L1075 715 L1070 735 L960 800 L940 700 L960 685 Z" fill="#fff"/>
<!-- left hand -->
<path d="M470 905 L475 975 Q430 985 380 985 L320 1000 Q305 995 320 985 L285 985 Q270 975 285 968 L265 962 Q258 950 275 945 L330 925 L335 900 Q345 890 365 900 Z" fill="#fcc9b9"/>
<!-- right hand -->
<path d="M1240 1275 L1308 1262 Q1318 1330 1305 1390 L1290 1435 Q1280 1445 1275 1425 L1262 1440 Q1250 1440 1252 1420 L1240 1395 Q1225 1340 1240 1275 Z" fill="#fcc9b9"/>
<!-- red mat -->
<path d="M635 1340 L635 1372 L975 1575 L1195 1450 L1195 1420 L975 1540 Z" fill="#6b1a1e"/>
<path d="M975 1540 L975 1578 L1200 1455 Q1250 1420 1250 1375 L1225 1362 Z" fill="#b5373f"/>
<path d="M860 1145 Q850 1240 760 1265 L635 1340 L975 1540 L1140 1450 Q1215 1410 1228 1362 Z" fill="#822323"/>
<path d="M860 1145 L1240 1370 L1228 1395 L855 1178 Z" fill="#6b1a1e"/>
</g>

<g><path d="M1208.2 581.8 L1207.8 583.4 L1206.7 585.1 L1204.7 586.8 L1202.0 588.4 L1158.7 611.6 L1155.7 613.0 L1152.6 614.1 L1149.5 614.7 L1146.4 614.9 L1143.3 614.7 L1140.2 614.0 L1137.2 613.0 L1134.1 611.5 L1088.7 587.0 L1086.0 585.3 L1084.0 583.6 L1082.9 582.0 L1082.5 580.3 L1082.5 571.8 L1082.9 573.5 L1084.0 575.1 L1086.0 576.8 L1088.7 578.5 L1134.1 603.0 L1137.2 604.5 L1140.2 605.5 L1143.3 606.2 L1146.4 606.4 L1149.5 606.2 L1152.6 605.6 L1155.7 604.5 L1158.7 603.1 L1202.0 579.9 L1204.7 578.3 L1206.7 576.6 L1207.8 574.9 L1208.2 573.3Z" fill="url(#pg2)"/><path d="M1088.7 578.5 L1086.0 576.8 L1084.0 575.1 L1082.9 573.5 L1082.5 571.8 L1082.9 570.1 L1084.0 568.5 L1086.0 566.8 L1088.7 565.2 L1132.0 541.9 L1135.0 540.5 L1138.1 539.4 L1141.2 538.8 L1144.3 538.6 L1147.4 538.8 L1150.5 539.5 L1153.5 540.5 L1156.6 542.0 L1202.1 566.6 L1204.7 568.3 L1206.7 570.0 L1207.8 571.6 L1208.2 573.3 L1207.8 574.9 L1206.7 576.6 L1204.7 578.3 L1202.0 579.9 L1158.7 603.1 L1155.7 604.5 L1152.6 605.6 L1149.5 606.2 L1146.4 606.4 L1143.3 606.2 L1140.2 605.5 L1137.2 604.5 L1134.1 603.0Z" fill="#fae9c4"/></g>
<g><path d="M1478.8 475.5 L1478.4 477.3 L1477.0 479.1 L1474.8 481.0 L1471.7 482.8 L1416.8 510.8 L1413.3 512.4 L1409.7 513.5 L1406.2 514.2 L1402.6 514.4 L1399.1 514.2 L1395.5 513.5 L1392.0 512.3 L1388.4 510.7 L1333.1 481.8 L1330.0 480.0 L1327.7 478.1 L1326.4 476.3 L1326.0 474.4 L1326.0 465.9 L1326.4 467.8 L1327.7 469.6 L1330.0 471.5 L1333.1 473.3 L1388.4 502.2 L1392.0 503.8 L1395.5 505.0 L1399.1 505.7 L1402.6 505.9 L1406.2 505.7 L1409.7 505.0 L1413.3 503.9 L1416.8 502.3 L1471.7 474.3 L1474.8 472.5 L1477.0 470.6 L1478.4 468.8 L1478.8 467.0Z" fill="url(#pg3)"/><path d="M1333.1 473.3 L1330.0 471.5 L1327.7 469.6 L1326.4 467.8 L1326.0 465.9 L1326.4 464.1 L1327.8 462.3 L1330.0 460.4 L1333.1 458.6 L1388.0 430.6 L1391.5 429.0 L1395.1 427.9 L1398.6 427.2 L1402.2 427.0 L1405.7 427.2 L1409.3 427.9 L1412.8 429.1 L1416.4 430.7 L1471.7 459.6 L1474.8 461.4 L1477.1 463.3 L1478.4 465.1 L1478.8 467.0 L1478.4 468.8 L1477.0 470.6 L1474.8 472.5 L1471.7 474.3 L1416.8 502.3 L1413.3 503.9 L1409.7 505.0 L1406.2 505.7 L1402.6 505.9 L1399.1 505.7 L1395.5 505.0 L1392.0 503.8 L1388.4 502.2Z" fill="#fae9c4"/></g>
<g transform="translate(980,170) scale(0.27714)">
<!-- big chat window -->
<path d="M430 110 Q430 75 470 65 Q490 62 505 72 L1085 390 Q1115 408 1115 440 L1115 985 Q1115 1005 1100 1012 L1075 1025 L1060 430 Z" fill="#b9a265"/>
<path d="M430 120 Q430 80 465 100 L1055 420 Q1090 440 1090 480 L1090 990 Q1090 1035 1055 1018 L465 705 Q430 685 430 650 Z" fill="#ececec"/>
<path d="M430 120 Q430 80 465 100 L1055 420 Q1090 440 1090 480 L1090 505 L430 165 Z" fill="#822323"/>
<g stroke="#fff" stroke-width="7" fill="none"><path d="M850 353 L910 384"/><ellipse cx="960" cy="397" rx="22" ry="27" transform="rotate(-20 960 397)"/><path d="M1010 418 L1050 462 M1045 420 L1015 462"/></g>
<!-- avatars -->
<g id="av1"><ellipse cx="515" cy="305" rx="34" ry="60" fill="#822323" transform="rotate(-8 515 305)"/><ellipse cx="518" cy="290" rx="13" ry="17" fill="#fff"/><path d="M497 318 Q515 300 535 330 L535 340 L497 322 Z" fill="#fff"/></g>
<g><ellipse cx="515" cy="628" rx="34" ry="60" fill="#822323" transform="rotate(-8 515 628)"/><ellipse cx="518" cy="613" rx="13" ry="17" fill="#fff"/><path d="M497 641 Q515 623 535 653 L535 663 L497 645 Z" fill="#fff"/></g>
<g><ellipse cx="960" cy="685" rx="34" ry="60" fill="#6e5b2b" transform="rotate(-8 960 685)"/><ellipse cx="963" cy="670" rx="13" ry="17" fill="#fff"/><path d="M942 698 Q960 680 980 710 L980 720 L942 702 Z" fill="#fff"/></g>
<!-- bars -->
<path d="M580 295 Q580 280 595 288 L890 450 Q902 458 902 472 L902 555 Q902 570 888 562 L592 400 Q580 392 580 378 Z" fill="#822323"/>
<path d="M598 318 L882 472 L882 535 L598 380 Z" fill="#f2dcd0"/>
<path d="M535 430 Q535 415 550 423 L880 600 Q892 608 892 622 L892 705 Q892 720 878 712 L547 535 Q535 527 535 513 Z" fill="#6e5b2b"/>
<path d="M553 455 L872 626 L872 688 L553 517 Z" fill="#ece4cf"/>
<path d="M580 618 Q580 603 595 611 L890 773 Q902 781 902 795 L902 878 Q902 893 888 885 L592 723 Q580 715 580 701 Z" fill="#822323"/>
<path d="M598 641 L882 795 L882 858 L598 703 Z" fill="#f2dcd0"/>
<g stroke="#822323" stroke-width="2.5" fill="none" opacity="0.75">
<path d="M598 326 L882 480 M598 334 L882 488 M598 342 L882 496 M598 350 L882 504 M598 358 L882 512 M598 366 L882 520 M598 374 L882 528"/>
<path d="M598 649 L882 803 M598 657 L882 811 M598 665 L882 819 M598 673 L882 827 M598 681 L882 835 M598 689 L882 843 M598 697 L882 851"/>
</g>
<g stroke="#6e5b2b" stroke-width="2.5" fill="none" opacity="0.75">
<path d="M553 463 L872 634 M553 471 L872 642 M553 479 L872 650 M553 487 L872 658 M553 495 L872 666 M553 503 L872 674 M553 511 L872 682"/>
</g>
<!-- code icon panel -->
<path d="M122 700 Q122 680 145 672 Q165 665 180 675 L415 810 Q437 823 437 850 L437 1125 Q437 1145 425 1152 L400 1165 L150 1022 Q122 1005 122 975 Z" fill="#fff" stroke="#fff" stroke-width="70" stroke-linejoin="round"/>
<path d="M122 700 Q122 680 145 672 Q165 665 180 675 L415 810 Q437 823 437 850 L437 1125 Q437 1145 425 1152 L400 1165 L395 860 Z" fill="#b9a265"/>
<path d="M122 712 Q122 682 150 697 L385 830 Q413 847 413 878 L413 1130 Q413 1172 385 1157 L150 1022 Q122 1005 122 975 Z" fill="#6e5b2b"/>
<g stroke="#fff" stroke-width="16" fill="none" stroke-linejoin="miter"><path d="M218 850 L160 862 L228 962"/><path d="M285 835 L245 995"/><path d="M310 920 L372 1000 L305 1008"/></g>
<!-- doc -->
<path d="M955 1070 Q955 1052 975 1050 L990 1050 L1205 1172 Q1222 1182 1222 1200 L1222 1640 L1195 1640 L1195 1215 Z" fill="#6e5b2b"/>
<path d="M955 1068 L985 1050 L1215 1180 L1195 1212 Z" fill="#b9a265"/>
<path d="M955 1075 L1195 1210 L1195 1640 L955 1500 Z" fill="#822323"/>
<g stroke="#fff" stroke-width="7" fill="none">
<path d="M1040 1180 L1150 1242 M1005 1212 L1060 1243 M1080 1225 L1150 1265 M1060 1245 L1130 1284 M1100 1290 L1150 1318"/>
<path d="M1005 1275 L1060 1306 M1080 1320 L1150 1360 M1040 1310 L1100 1344 M1060 1352 L1150 1402"/>
<path d="M1005 1350 L1060 1381 M1040 1390 L1130 1441 M1060 1420 L1110 1448 M1080 1400 L1150 1440"/>
<path d="M1005 1440 L1090 1488 M1040 1475 L1150 1537 M1060 1505 L1130 1545 M1040 1500 L1100 1534"/>
</g>
<!-- woman window -->
<path d="M1300 445 Q1300 425 1320 420 Q1335 416 1348 423 L1785 660 Q1810 675 1810 705 L1810 1140 Q1810 1155 1798 1162 L1780 1172 L1760 700 Z" fill="#b9a265"/>
<!-- bubble behind -->
<path d="M1475 350 Q1475 338 1490 338 L1500 340 L1685 440 Q1698 448 1698 462 L1698 600 L1680 610 L1670 470 Z" fill="#b9a265"/>
<path d="M1472 358 Q1472 340 1488 349 L1668 447 Q1685 457 1685 475 L1685 590 Q1685 610 1668 600 L1650 590 L1630 630 L1590 560 L1488 500 Q1472 490 1472 472 Z" fill="#ececec"/>
<g stroke="#822323" stroke-width="6" fill="none"><path d="M1500 392 L1660 480 M1500 406 L1660 494 M1500 420 L1660 508 M1500 434 L1660 522 M1500 448 L1660 536 M1500 462 L1660 550 M1500 476 L1660 564"/></g>
<path d="M1300 455 Q1300 428 1325 442 L1590 585 L1625 640 L1650 598 L1755 660 Q1785 678 1785 710 L1785 1135 Q1785 1180 1755 1165 L1300 905 Z" fill="#ececec"/>
<path d="M1300 455 Q1300 428 1325 442 L1590 585 L1625 640 L1650 598 L1755 660 Q1785 678 1785 710 L1785 745 L1650 672 L1625 660 L1590 652 L1300 495 Z" fill="#822323"/>
<g stroke="#fff" stroke-width="6" fill="none"><path d="M1335 465 L1362 498 M1362 465 L1335 498"/><ellipse cx="1410" cy="512" rx="16" ry="19"/><path d="M1440 548 L1480 570"/></g>
<!-- woman in window -->
<path d="M1462 680 Q1470 640 1520 640 Q1575 645 1590 700 Q1640 760 1625 850 L1560 800 L1500 770 Q1450 740 1462 680 Z" fill="#b9a265"/>
<path d="M1478 690 Q1490 665 1525 672 Q1555 690 1552 730 L1545 790 L1570 800 L1515 850 L1510 770 Q1480 760 1478 690 Z" fill="#fcc9b9"/>
<path d="M1470 660 Q1520 610 1575 690" stroke="#822323" stroke-width="10" fill="none"/>
<ellipse cx="1570" cy="708" rx="20" ry="24" fill="#822323"/><ellipse cx="1574" cy="708" rx="11" ry="15" fill="#faeacb"/>
<path d="M1550 725 Q1540 750 1505 752" stroke="#822323" stroke-width="6" fill="none"/>
<path d="M1245 938 L1385 905 Q1430 850 1450 790 Q1470 770 1500 770 L1480 850 L1490 890 L1560 850 L1575 790 Q1620 810 1640 860 Q1650 950 1655 1105 L1610 1112 L1590 1060 L1440 995 L1460 910 Q1400 965 1248 975 Z" fill="#6e5b2b"/>
<path d="M1575 900 L1600 1050 L1590 1065 L1565 1040 Z" fill="#b9a265"/>
<path d="M1500 770 L1515 850 L1570 800 L1575 790 L1555 860 L1490 890 L1478 850 Z" fill="#fff"/>
<path d="M1245 938 L1248 975 Q1215 985 1180 985 Q1150 975 1165 968 Q1140 960 1155 950 L1185 945 L1180 935 Q1190 928 1210 938 Z" fill="#fcc9b9"/>
<path d="M1610 1112 L1650 1108 Q1655 1150 1640 1180 L1630 1195 L1620 1170 L1605 1150 Z" fill="#fcc9b9"/>
<!-- man -->
<path d="M545 800 Q540 770 570 760 Q590 750 610 765 Q625 775 615 800 L600 850 L560 850 Z" fill="#b9a265"/>
<path d="M598 800 Q615 810 610 840 L600 860 L575 850 Z" fill="#fcc9b9"/>
<path d="M640 850 L735 812 L760 805 L755 822 L735 835 L655 885 Z" fill="#fcc9b9"/>
<path d="M640 1005 L725 1030 L745 1018 L740 1035 L765 1050 L745 1062 L715 1052 L635 1030 Z" fill="#fcc9b9"/>
<path d="M510 1095 L640 1095 Q640 1250 625 1440 L585 1440 L570 1290 L560 1410 L520 1400 Q495 1250 510 1095 Z" fill="#822323"/>
<path d="M555 848 L600 855 Q640 880 640 950 L640 1095 Q570 1110 497 1085 L505 900 Q515 860 555 848 Z" fill="#6e5b2b"/>
<path d="M600 855 L640 848 L662 880 L625 905 Z" fill="#822323"/>
<path d="M600 885 Q635 900 640 960 L655 1005 L630 1030 L595 960 Q585 920 600 885 Z" fill="#822323"/>
<path d="M518 1418 Q540 1400 565 1410 L575 1418 Q560 1440 530 1440 Q510 1435 518 1418 Z" fill="#6e5b2b"/>
<path d="M578 1445 Q610 1420 650 1420 Q665 1435 640 1455 Q610 1470 585 1465 Z" fill="#6e5b2b"/>
</g>

<g><path d="M2066.4 472.2 L2065.6 475.8 L2063.1 479.3 L2059.0 482.8 L2053.2 486.3 L1962.7 534.6 L1956.1 537.7 L1949.4 539.9 L1942.8 541.2 L1936.2 541.7 L1929.5 541.3 L1922.9 540.0 L1916.3 537.8 L1909.6 534.8 L1814.8 484.9 L1809.0 481.5 L1804.8 478.0 L1802.3 474.5 L1801.5 471.0 L1801.5 454.0 L1802.3 457.5 L1804.8 461.0 L1809.0 464.5 L1814.8 467.9 L1909.6 517.8 L1916.3 520.8 L1922.9 523.0 L1929.5 524.3 L1936.2 524.7 L1942.8 524.2 L1949.4 522.9 L1956.1 520.7 L1962.7 517.6 L2053.2 469.3 L2059.0 465.8 L2063.1 462.3 L2065.6 458.8 L2066.4 455.2Z" fill="url(#pg4)"/><path d="M1814.8 467.9 L1809.0 464.5 L1804.8 461.0 L1802.3 457.5 L1801.5 454.0 L1802.3 450.4 L1804.8 446.9 L1808.9 443.4 L1814.7 439.9 L1905.2 391.6 L1911.8 388.5 L1918.5 386.3 L1925.1 385.0 L1931.7 384.5 L1938.4 384.9 L1945.0 386.2 L1951.6 388.4 L1958.3 391.4 L2053.1 441.3 L2058.9 444.7 L2063.1 448.2 L2065.6 451.7 L2066.4 455.2 L2065.6 458.8 L2063.1 462.3 L2059.0 465.8 L2053.2 469.3 L1962.7 517.6 L1956.1 520.7 L1949.4 522.9 L1942.8 524.2 L1936.2 524.7 L1929.5 524.3 L1922.9 523.0 L1916.3 520.8 L1909.6 517.8Z" fill="#fae9c4"/></g>
<g transform="translate(1680,220) scale(0.24631)">
<!-- gear shadow -->
<path d="M280 820 L490 910 L265 1015 L70 905 Z" fill="url(#gearsh)"/>
<!-- gear -->
<g>
<path d="M28 820 L28 875 Q40 930 175 935 Q310 930 320 875 L320 820 Z" fill="#8a7338"/>
<g fill="#6e5b2b"><rect x="55" y="870" width="40" height="45"/><rect x="155" y="885" width="45" height="48"/><rect x="262" y="865" width="35" height="45"/></g>
<ellipse cx="175" cy="822" rx="148" ry="74" fill="#7a642f"/>
<g fill="#7a642f"><rect x="145" y="735" width="45" height="30"/><rect x="40" y="765" width="40" height="30" transform="rotate(-25 60 780)"/><rect x="265" y="760" width="40" height="30" transform="rotate(25 285 775)"/><rect x="25" y="800" width="30" height="35"/><rect x="295" y="800" width="28" height="35"/></g>
<ellipse cx="175" cy="815" rx="66" ry="34" fill="#5c4a20"/>
<ellipse cx="175" cy="828" rx="56" ry="24" fill="#fff"/>
</g>
<!-- folder -->
<path d="M258 235 L258 222 L305 195 L562 340 L562 645 L510 670 Z" fill="#c9c9c9"/>
<path d="M258 225 L290 208 L540 350 L540 655 L510 670 L510 370 Z" fill="#bdbdbd"/>
<path d="M258 225 L510 370 L510 670 L258 525 Z" fill="#e6e6e6"/>
<path d="M560 425 Q585 425 588 450 L588 635 L490 700 L480 690 L560 640 Z" fill="#b9a265"/>
<path d="M545 420 L575 425 L575 640 L545 655 Z" fill="#8a7338"/>
<path d="M228 300 Q228 285 245 285 L350 340 L375 400 L490 465 Q500 470 500 485 L500 690 Q498 705 480 703 L240 568 Q228 560 228 545 Z" fill="#b9a265"/>
<path d="M225 310 Q225 290 243 297 L342 350 L368 412 L480 475 Q490 482 490 495 L490 690 Q488 710 470 700 L238 570 Q225 562 225 548 Z" fill="#822323"/>
<!-- stand -->
<path d="M790 920 L900 865 L1150 1010 L1040 1065 Z" fill="#b9a265"/>
<path d="M790 920 L1040 1065 L1040 1102 L790 955 Z" fill="#822323"/>
<path d="M1040 1065 L1150 1010 L1150 1045 L1040 1102 Z" fill="#6b1a1e"/>
<!-- monitor -->
<path d="M672 118 Q672 92 695 85 Q712 78 728 86 L1400 470 Q1432 490 1432 520 L1432 1105 Q1432 1125 1418 1133 L1395 1145 L1380 520 Z" fill="#b9a265"/>
<path d="M672 115 Q672 90 695 84 Q712 78 728 86 L1400 470 L1370 490 L690 100 Z" fill="#7e6a36"/>
<path d="M672 125 Q672 92 700 108 L1370 490 Q1395 505 1395 535 L1395 1115 Q1395 1160 1365 1140 L700 760 Q672 742 672 712 Z" fill="#6b1a1e"/>
<path d="M690 135 L1382 530 L1382 1120 L690 725 Z" fill="#fff"/>
<path d="M690 135 L1382 530 L1382 590 L690 200 Z" fill="#822323"/>
<path d="M1165 437 L1335 535" stroke="#fff" stroke-width="14" stroke-linecap="round"/>
<!-- chart -->
<g stroke="#822323" stroke-width="11" fill="none">
<path d="M735 418 L1045 595 M840 455 L1045 572 M900 463 L1045 546 M800 483 L1045 623 M780 500 L1045 651 M812 545 L1045 678 M850 592 L1045 703 M905 650 L1045 730 M948 700 L1045 756"/>
</g>
<g stroke="#6e5b2b" stroke-width="11" fill="none">
<path d="M1045 546 L1143 602 M1045 572 L1143 628 M1045 595 L1205 686 M1045 623 L1240 734 M1045 651 L1272 780 M1045 678 L1275 809 M1045 703 L1310 854 M1045 730 L1295 872 M1045 756 L1192 840 M1045 782 L1192 866"/>
</g>
<circle cx="876" cy="712" r="9" fill="#f7c331"/><path d="M895 722 L980 770" stroke="#c4c4c4" stroke-width="5"/>
<circle cx="1068" cy="828" r="9" fill="#3aa0e0"/><path d="M1090 840 L1175 888" stroke="#c4c4c4" stroke-width="5"/>
<!-- floating panel -->
<path d="M1342 393 L1358 378 L1667 548 L1667 838 L1645 852 L1640 562 Z" fill="#7a642f"/>
<path d="M1342 393 L1358 378 L1667 548 L1645 562 Z" fill="#8a7338"/>
<path d="M1342 393 L1645 562 L1645 852 L1342 682 Z" fill="#822323"/>
<path d="M1352 410 L1635 568 L1635 836 L1352 676 Z" fill="#fff"/>
<path d="M1362 424 L1626 572 L1626 822 L1362 672 Z" fill="#b9a265"/>
<g fill="#822323"><path d="M1365 510 L1415 538 L1415 592 L1365 564 Z"/><path d="M1432 547 L1488 578 L1488 632 L1432 601 Z"/><path d="M1502 587 L1558 618 L1558 672 L1502 641 Z"/><path d="M1572 626 L1628 657 L1628 711 L1572 680 Z"/></g>
<g stroke="#faeacb" stroke-width="6" fill="none"><path d="M1378 455 L1450 495 M1378 470 L1505 541 M1378 485 L1505 556 M1378 595 L1450 635 M1378 610 L1505 681 M1378 625 L1505 696"/></g>
<g stroke="#822323" stroke-width="5" fill="none"><path d="M1378 660 L1505 731 M1378 673 L1505 744"/></g>
<ellipse cx="1582" cy="725" rx="36" ry="28" fill="#faeacb" transform="rotate(28 1582 725)"/><path d="M1574 712 L1592 728 L1574 734 Z" fill="#b9a265"/>
<!-- doc panel -->
<path d="M1723 640 L1750 624 L2012 772 L2012 1115 L1985 1132 L1723 982 Z" fill="#fff" stroke="#fff" stroke-width="88" stroke-linejoin="round"/>
<path d="M1723 640 L1750 624 L2012 772 L2012 1115 L1985 1132 L1980 792 Z" fill="#6e5b2b"/>
<path d="M1723 640 L1750 624 L2012 772 L1985 790 Z" fill="#7e6a36"/>
<path d="M1723 640 L1985 790 L1985 1132 L1723 982 Z" fill="#b9a265"/>
<path d="M1723 640 L1985 790 L1985 828 L1723 678 Z" fill="#822323"/>
<path d="M1985 790 L2012 772 L2012 808 L1985 828 Z" fill="#6b1a1e"/>
<g stroke="#fff" stroke-width="13" stroke-linecap="round" fill="none"><path d="M1770 780 L1865 834 M1770 808 L1925 896 M1770 836 L1925 924 M1770 864 L1925 952 M1770 892 L1905 969"/></g>
<path d="M1750 1052 L1980 1180" stroke="#822323" stroke-width="4"/>
</g>

<g><path d="M790.8 1051.6 L790.0 1055.2 L787.7 1058.8 L783.9 1062.5 L778.7 1066.1 L709.7 1107.2 L703.7 1110.4 L697.7 1112.6 L691.8 1113.9 L685.8 1114.3 L679.8 1113.8 L673.9 1112.3 L667.9 1110.0 L662.0 1106.7 L490.0 998.8 L484.8 995.1 L481.1 991.4 L478.9 987.7 L478.2 984.0 L478.2 969.0 L478.9 972.7 L481.1 976.4 L484.8 980.1 L490.0 983.8 L662.0 1091.7 L667.9 1095.0 L673.9 1097.3 L679.8 1098.8 L685.8 1099.3 L691.8 1098.9 L697.7 1097.6 L703.7 1095.4 L709.7 1092.2 L778.7 1051.1 L783.9 1047.5 L787.7 1043.8 L790.0 1040.2 L790.8 1036.6Z" fill="url(#pg5)"/><path d="M490.0 983.8 L484.8 980.1 L481.1 976.4 L478.9 972.7 L478.2 969.0 L479.0 965.4 L481.3 961.8 L485.1 958.2 L490.3 954.6 L559.3 913.4 L565.3 910.3 L571.3 908.1 L577.2 906.8 L583.2 906.4 L589.2 906.9 L595.1 908.4 L601.1 910.7 L607.0 914.0 L779.0 1021.8 L784.2 1025.5 L787.9 1029.2 L790.1 1032.9 L790.8 1036.6 L790.0 1040.2 L787.7 1043.8 L783.9 1047.5 L778.7 1051.1 L709.7 1092.2 L703.7 1095.4 L697.7 1097.6 L691.8 1098.9 L685.8 1099.3 L679.8 1098.8 L673.9 1097.3 L667.9 1095.0 L662.0 1091.7Z" fill="#fae9c4"/></g>
<g transform="translate(460,660) scale(0.271)">
<!-- cloud -->
<path id="cl" d="M690 240 Q640 200 650 150 Q665 100 720 105 Q740 110 755 125 Q790 55 870 58 Q960 70 985 170 Q1000 210 1000 245 Q1060 270 1080 350 Q1085 430 1040 460 L1010 458 Z" fill="#b9a265"/>
<path d="M650 250 Q625 200 645 150 Q665 105 715 120 Q735 128 745 140 Q775 70 845 75 Q925 85 955 185 Q968 225 968 262 Q1025 290 1040 370 Q1040 440 1010 458 Z" fill="#6e5b2b"/>
<path d="M808 238 L845 252 L845 378 L808 358 Z" fill="#fae9c4"/>
<path d="M790 210 L826 168 L862 245 L826 232 Z" fill="#fae9c4"/>
<path d="M826 168 L838 175 L845 252 L826 232 Z" fill="#e8d3a0"/>
<g fill="#6e5b2b"><ellipse cx="820" cy="385" rx="8" ry="10"/><ellipse cx="820" cy="418" rx="8" ry="10"/><ellipse cx="820" cy="451" rx="8" ry="10"/><ellipse cx="820" cy="484" rx="8" ry="10"/></g>
<!-- folder -->
<path d="M215 500 L360 580 L368 590 L368 780 L345 795 Z" fill="#b9a265"/>
<path d="M212 505 L355 583 L355 788 L340 790 Z" fill="#fff"/>
<path d="M112 445 Q112 432 125 438 L205 482 L215 520 L345 592 L345 792 L112 665 Z" fill="#6e5b2b"/>
<path d="M138 522 L196 553 L196 590 L138 559 Z" fill="#fff"/>
<g stroke="#6e5b2b" stroke-width="4"><path d="M146 540 L190 563 M146 550 L190 573 M146 560 L190 583"/></g>
<path d="M1080 1045 L1405 1220 L1405 1465 L1080 1290 Z" fill="#fff" stroke="#fff" stroke-width="70" stroke-linejoin="round"/>
<!-- monitor stand -->
<path d="M640 1060 L745 1010 L935 1118 L935 1150 L840 1200 L640 1088 Z" fill="#b5373f"/>
<path d="M640 1060 L745 1010 L935 1118 L840 1168 Z" fill="#6b1a1e"/>
<path d="M640 1060 L840 1168 L840 1200 L640 1088 Z" fill="#822323"/>
<path d="M815 1000 L850 1015 L850 1150 L815 1135 Z" fill="#b5373f"/>
<!-- monitor -->
<path d="M435 352 L455 343 L1138 738 L1138 1045 L1110 1060 L1105 745 Z" fill="#b5373f"/>
<path d="M435 352 L455 343 L1138 738 L1110 752 Z" fill="#822323"/>
<path d="M470 412 L470 828 L1078 1172 L1078 765 Z" fill="#fff"/>
<path d="M435 352 L1110 752 L1110 1232 L435 850 Z M470 412 L470 828 L1078 1172 L1078 765 Z" fill="#6e5b2b" fill-rule="evenodd"/>
<!-- shield -->
<g>
<path d="M600 478 L628 466 Q715 528 815 520 Q885 600 1005 660 Q1015 800 970 880 Q910 960 825 975 L795 965 Q705 915 650 800 Q585 650 600 478 Z" fill="#fff" stroke="#fff" stroke-width="14" stroke-linejoin="round"/>
<path d="M628 470 Q715 528 815 520 Q885 600 1005 660 Q1015 800 965 880 Q905 960 825 975 L795 965 Z" fill="#822323"/>
<path d="M600 478 L628 468 Q715 528 815 520 Q885 600 1005 660 L975 670 Q870 625 800 545 Q700 545 600 478 Z" fill="#b5373f"/>
<path d="M600 478 Q700 545 800 545 Q870 625 975 670 Q985 800 935 880 Q880 955 795 965 Q705 915 650 800 Q585 650 600 478 Z" fill="#b5373f"/>
<path d="M614 502 Q705 562 795 562 Q865 642 958 682 Q965 800 920 872 Q870 940 800 948 Q715 900 665 795 Q605 655 614 502 Z" fill="#822323"/>
<path d="M634 535 Q710 590 788 590 Q850 665 934 698 Q940 800 900 862 Q858 920 800 928 Q728 885 685 790 Q635 670 634 535 Z" fill="#b5373f"/>
<path d="M642 548 Q712 598 785 598 Q846 672 926 704 Q932 800 893 858 Q853 912 800 920 Q732 878 692 787 Q644 672 642 548 Z" fill="#fae9c4"/>
<!-- padlock -->
<path d="M762 700 L762 655 Q765 608 800 610 Q838 622 842 690 L842 752" fill="none" stroke="#b9a265" stroke-width="22"/>
<path d="M748 708 L748 660 Q750 612 785 615 Q822 628 826 695 L826 756" fill="none" stroke="#fae9c4" stroke-width="22"/>
<path d="M685 690 L728 670 L872 745 L830 768 Z" fill="#cdb878"/>
<path d="M830 768 L872 745 L872 882 L830 906 Z" fill="#6e5b2b"/>
<path d="M685 690 L830 768 L830 906 L685 830 Z" fill="#b9a265"/>
<ellipse cx="758" cy="768" rx="12" ry="16" fill="#fff"/><path d="M752 775 L764 780 L764 815 L752 808 Z" fill="#fff"/>
</g>
<!-- keyboard -->
<path d="M240 1120 L735 1410 L950 1290 L950 1302 L735 1424 L240 1132 Z" fill="#b9a265"/>
<path d="M240 1120 L460 1000 L950 1290 L735 1410 Z" fill="#6e5b2b"/>
<g id="keys" fill="#fff">
<path d="M303 1123 L326 1136 L352 1121 L330 1108Z"/>
<path d="M337 1104 L360 1117 L387 1103 L364 1089Z"/>
<path d="M372 1085 L394 1099 L421 1084 L398 1071Z"/>
<path d="M406 1067 L428 1080 L455 1065 L433 1052Z"/>
<path d="M440 1048 L463 1061 L490 1046 L467 1033Z"/>
<path d="M332 1140 L354 1153 L381 1138 L359 1125Z"/>
<path d="M366 1121 L389 1134 L415 1120 L393 1106Z"/>
<path d="M400 1102 L423 1115 L450 1101 L427 1088Z"/>
<path d="M435 1084 L457 1097 L484 1082 L462 1069Z"/>
<path d="M469 1065 L492 1078 L518 1063 L496 1050Z"/>
<path d="M361 1157 L383 1170 L410 1155 L387 1142Z"/>
<path d="M395 1138 L417 1151 L444 1136 L422 1123Z"/>
<path d="M429 1119 L452 1132 L479 1118 L456 1105Z"/>
<path d="M464 1100 L486 1114 L513 1099 L490 1086Z"/>
<path d="M498 1082 L520 1095 L547 1080 L525 1067Z"/>
<path d="M389 1173 L412 1187 L439 1172 L416 1159Z"/>
<path d="M424 1155 L446 1168 L473 1153 L451 1140Z"/>
<path d="M458 1136 L481 1149 L507 1135 L485 1121Z"/>
<path d="M492 1117 L515 1130 L542 1116 L519 1103Z"/>
<path d="M527 1099 L549 1112 L576 1097 L553 1084Z"/>
<path d="M418 1190 L441 1203 L467 1189 L445 1176Z"/>
<path d="M453 1172 L475 1185 L502 1170 L479 1157Z"/>
<path d="M487 1153 L509 1166 L536 1151 L514 1138Z"/>
<path d="M521 1134 L544 1147 L570 1133 L548 1120Z"/>
<path d="M556 1115 L578 1129 L605 1114 L582 1101Z"/>
<path d="M447 1207 L470 1220 L496 1206 L474 1193Z"/>
<path d="M481 1188 L504 1202 L531 1187 L508 1174Z"/>
<path d="M516 1170 L538 1183 L565 1168 L542 1155Z"/>
<path d="M550 1151 L572 1164 L599 1150 L577 1136Z"/>
<path d="M584 1132 L607 1145 L634 1131 L611 1118Z"/>
<path d="M476 1224 L498 1237 L525 1223 L503 1209Z"/>
<path d="M510 1205 L533 1218 L559 1204 L537 1191Z"/>
<path d="M544 1187 L567 1200 L594 1185 L571 1172Z"/>
<path d="M579 1168 L601 1181 L628 1166 L606 1153Z"/>
<path d="M613 1149 L636 1162 L662 1148 L640 1135Z"/>
<path d="M505 1241 L527 1254 L554 1239 L531 1226Z"/>
<path d="M539 1222 L561 1235 L588 1221 L566 1208Z"/>
<path d="M573 1203 L596 1217 L623 1202 L600 1189Z"/>
<path d="M608 1185 L630 1198 L657 1183 L634 1170Z"/>
<path d="M642 1166 L664 1179 L691 1165 L669 1151Z"/>
<path d="M533 1258 L556 1271 L583 1256 L560 1243Z"/>
<path d="M568 1239 L590 1252 L617 1238 L595 1224Z"/>
<path d="M602 1220 L625 1233 L651 1219 L629 1206Z"/>
<path d="M636 1202 L659 1215 L686 1200 L663 1187Z"/>
<path d="M671 1183 L693 1196 L720 1181 L697 1168Z"/>
<path d="M562 1275 L585 1288 L611 1273 L589 1260Z"/>
<path d="M597 1256 L619 1269 L646 1254 L623 1241Z"/>
<path d="M631 1237 L653 1250 L680 1236 L658 1223Z"/>
<path d="M665 1218 L688 1232 L714 1217 L692 1204Z"/>
<path d="M700 1200 L722 1213 L749 1198 L726 1185Z"/>
<path d="M591 1292 L614 1305 L640 1290 L618 1277Z"/>
<path d="M625 1273 L648 1286 L675 1271 L652 1258Z"/>
<path d="M660 1254 L682 1267 L709 1253 L686 1239Z"/>
<path d="M694 1235 L716 1249 L743 1234 L721 1221Z"/>
<path d="M728 1217 L751 1230 L778 1215 L755 1202Z"/>
<path d="M649 1326 L668 1337 L695 1322 L676 1311Z"/>
<path d="M683 1307 L703 1318 L729 1304 L710 1292Z"/>
<path d="M718 1288 L737 1299 L764 1285 L745 1273Z"/>
<path d="M752 1269 L771 1281 L798 1266 L779 1255Z"/>
<path d="M786 1251 L806 1262 L832 1247 L813 1236Z"/>
<path d="M674 1340 L693 1351 L720 1337 L701 1325Z"/>
<path d="M708 1321 L727 1333 L754 1318 L735 1307Z"/>
<path d="M742 1303 L762 1314 L789 1299 L769 1288Z"/>
<path d="M777 1284 L796 1295 L823 1281 L804 1269Z"/>
<path d="M811 1265 L830 1276 L857 1262 L838 1251Z"/>
<path d="M699 1355 L718 1366 L745 1351 L725 1340Z"/>
<path d="M733 1336 L752 1347 L779 1333 L760 1321Z"/>
<path d="M767 1317 L787 1328 L813 1314 L794 1302Z"/>
<path d="M802 1298 L821 1310 L848 1295 L828 1284Z"/>
<path d="M836 1280 L855 1291 L882 1276 L863 1265Z"/>
<path d="M723 1369 L743 1380 L769 1366 L750 1354Z"/>
<path d="M758 1350 L777 1362 L804 1347 L784 1336Z"/>
<path d="M792 1332 L811 1343 L838 1328 L819 1317Z"/>
<path d="M826 1313 L846 1324 L872 1310 L853 1298Z"/>
<path d="M861 1294 L880 1305 L907 1291 L887 1280Z"/>
</g>
<!-- password panel -->
<path d="M1080 1045 L1092 1036 L1412 1210 L1412 1455 L1405 1465 Z" fill="#b9a265"/>
<path d="M1080 1045 L1405 1220 L1405 1465 L1080 1290 Z" fill="#6e5b2b"/>
<path d="M1085 1052 L1402 1224 L1402 1262 L1085 1090 Z" fill="#efefef"/>
<g fill="#6e5b2b"><circle cx="1100" cy="1070" r="5"/><circle cx="1115" cy="1078" r="5"/><circle cx="1130" cy="1086" r="5"/></g>
<path d="M1170 1228 L1330 1316" stroke="#fff" stroke-width="62" stroke-linecap="round"/>
<g stroke="#6e5b2b" stroke-width="6" fill="none"><path d="M1168 1215.0 L1168 1249.0 M1154 1222 L1182 1242 M1154 1242 L1182 1222"/><path d="M1205 1235.3 L1205 1269.3 M1191 1242 L1219 1262 M1191 1262 L1219 1242"/><path d="M1242 1255.6 L1242 1289.6 M1228 1263 L1256 1283 M1228 1283 L1256 1263"/><path d="M1279 1275.9 L1279 1309.9 M1265 1283 L1293 1303 M1265 1303 L1293 1283"/><path d="M1316 1296.2 L1316 1330.2 M1302 1303 L1330 1323 M1302 1323 L1330 1303"/></g>
</g>

<g><path d="M1321.5 1028.1 L1321.1 1029.8 L1319.9 1031.6 L1318.0 1033.3 L1315.3 1035.0 L1277.6 1055.9 L1274.6 1057.4 L1271.5 1058.5 L1268.4 1059.1 L1265.3 1059.4 L1262.3 1059.2 L1259.2 1058.7 L1256.1 1057.7 L1252.9 1056.3 L1212.7 1035.6 L1210.0 1034.0 L1208.0 1032.4 L1206.8 1030.7 L1206.4 1029.0 L1206.4 1021.0 L1206.8 1022.7 L1208.0 1024.4 L1210.0 1026.0 L1212.7 1027.6 L1252.9 1048.3 L1256.1 1049.7 L1259.2 1050.7 L1262.3 1051.2 L1265.3 1051.4 L1268.4 1051.1 L1271.5 1050.5 L1274.6 1049.4 L1277.6 1047.9 L1315.3 1027.0 L1318.0 1025.3 L1319.9 1023.6 L1321.1 1021.8 L1321.5 1020.1Z" fill="url(#pg6)"/><path d="M1212.7 1027.6 L1210.0 1026.0 L1208.0 1024.4 L1206.8 1022.7 L1206.4 1021.0 L1206.7 1019.3 L1207.8 1017.6 L1209.7 1015.9 L1212.3 1014.1 L1253.3 990.1 L1256.3 988.5 L1259.4 987.4 L1262.4 986.8 L1265.4 986.6 L1268.4 986.8 L1271.4 987.5 L1274.4 988.6 L1277.4 990.2 L1315.5 1013.0 L1318.2 1014.8 L1320.0 1016.6 L1321.1 1018.3 L1321.5 1020.1 L1321.1 1021.8 L1319.9 1023.6 L1318.0 1025.3 L1315.3 1027.0 L1277.6 1047.9 L1274.6 1049.4 L1271.5 1050.5 L1268.4 1051.1 L1265.3 1051.4 L1262.3 1051.2 L1259.2 1050.7 L1256.1 1049.7 L1252.9 1048.3Z" fill="#fae9c4"/></g>
<g><path d="M1445.8 1053.2 L1445.5 1055.0 L1444.3 1056.7 L1442.4 1058.5 L1439.8 1060.3 L1401.8 1082.7 L1398.7 1084.3 L1395.7 1085.4 L1392.7 1086.1 L1389.7 1086.3 L1386.6 1086.1 L1383.6 1085.5 L1380.5 1084.4 L1377.5 1082.9 L1336.7 1060.1 L1334.1 1058.3 L1332.2 1056.6 L1331.0 1054.9 L1330.6 1053.2 L1330.6 1045.2 L1331.0 1046.9 L1332.2 1048.6 L1334.1 1050.3 L1336.7 1052.1 L1377.5 1074.9 L1380.5 1076.4 L1383.6 1077.5 L1386.6 1078.1 L1389.7 1078.3 L1392.7 1078.1 L1395.7 1077.4 L1398.7 1076.3 L1401.8 1074.7 L1439.8 1052.3 L1442.4 1050.5 L1444.3 1048.7 L1445.5 1047.0 L1445.8 1045.2Z" fill="url(#pg7)"/><path d="M1336.7 1052.1 L1334.1 1050.3 L1332.2 1048.6 L1331.0 1046.9 L1330.6 1045.2 L1331.0 1043.4 L1332.1 1041.7 L1334.0 1040.0 L1336.7 1038.2 L1377.6 1014.7 L1380.6 1013.2 L1383.6 1012.1 L1386.6 1011.4 L1389.7 1011.3 L1392.7 1011.5 L1395.7 1012.2 L1398.7 1013.3 L1401.7 1014.9 L1439.9 1038.0 L1442.5 1039.8 L1444.4 1041.6 L1445.5 1043.4 L1445.8 1045.2 L1445.5 1047.0 L1444.3 1048.7 L1442.4 1050.5 L1439.8 1052.3 L1401.8 1074.7 L1398.7 1076.3 L1395.7 1077.4 L1392.7 1078.1 L1389.7 1078.3 L1386.6 1078.1 L1383.6 1077.5 L1380.5 1076.4 L1377.5 1074.9Z" fill="#fae9c4"/></g>
<g transform="translate(1030,770) scale(0.11086)">
<!-- truck -->
<path d="M310 1245 L820 1545 L820 1583 L310 1280 Z" fill="#2f3a3f"/>
<path d="M62 615 L290 750 L290 1215 L62 1075 Z" fill="#b9a265"/>
<path d="M290 745 L740 1005 L740 1490 L290 1230 Z" fill="#6e5b2b"/>
<path d="M290 745 L470 850 L470 1130 L290 1230 Z" fill="#7e6a36"/>
<!-- boxes -->
<g>
<path d="M615 985 L665 960 L740 1000 L740 1100 L690 1075 L615 1035 Z" fill="#d9b583"/>
<path d="M480 1040 L545 985 L650 1040 L640 1130 L560 1150 L480 1090 Z" fill="#d9b583"/><path d="M480 1040 L545 985 L650 1040 L590 1095 Z" fill="#e8c99a"/>
<path d="M635 1120 L690 1085 L740 1110 L740 1215 L690 1230 L635 1190 Z" fill="#d9b583"/><path d="M690 1120 L740 1110 L740 1215 L690 1230 Z" fill="#c19f6c"/>
<path d="M345 1100 L410 1050 L650 1180 L600 1210 L600 1300 L575 1335 L345 1205 Z" fill="#d9b583"/><path d="M345 1100 L410 1050 L650 1180 L590 1230 Z" fill="#e8c99a"/>
<path d="M585 1250 L640 1215 L740 1265 L710 1290 L710 1400 L585 1340 Z" fill="#d9b583"/><path d="M585 1250 L640 1215 L740 1265 L700 1300 Z" fill="#e8c99a"/><path d="M710 1290 L740 1265 L740 1380 L710 1400 Z" fill="#c19f6c"/>
</g>
<path d="M270 715 L1255 135 L1745 420 L760 1000 Z" fill="#b9a265"/>
<path d="M270 715 L760 1000 L760 1020 L290 750 Z" fill="#8a7338"/>
<path d="M985 1380 L1745 945 L1745 1020 L1150 1360 L985 1450 Z" fill="#2f3a3f"/>
<!-- wheels -->
<ellipse cx="1862" cy="915" rx="102" ry="120" fill="#3b4449"/><ellipse cx="1885" cy="920" rx="78" ry="100" fill="#4d575c"/><ellipse cx="1890" cy="920" rx="36" ry="46" fill="#a7aeb2"/><ellipse cx="1892" cy="920" rx="18" ry="23" fill="#2f3a3f"/>
<ellipse cx="1072" cy="1440" rx="92" ry="116" fill="#3b4449"/><ellipse cx="1085" cy="1442" rx="72" ry="96" fill="#4d575c"/><ellipse cx="1088" cy="1442" rx="36" ry="46" fill="#a7aeb2"/><ellipse cx="1090" cy="1442" rx="18" ry="23" fill="#2f3a3f"/>
<path d="M760 1000 L1745 422 L1745 955 L975 1395 L975 1135 Z" fill="#6e5b2b"/>
<!-- cab -->
<path d="M1355 185 L1440 140 Q1490 118 1540 145 L1885 345 L1745 420 Z" fill="#7e6a36"/>
<path d="M1410 225 L1500 175 L1745 318 L1650 368 Z" fill="#b9a265"/>
<path d="M1650 368 L1745 318 L1745 352 L1695 392 Z" fill="#8a7338"/>
<path d="M1745 420 L1870 352 Q1940 350 1960 440 L1995 640 Q2010 740 1960 780 L1745 855 Z" fill="#b9a265"/>
<path d="M1762 435 L1855 392 Q1905 390 1915 440 L1925 525 L1762 640 Z" fill="#7e6a36"/>
<path d="M1762 650 L1940 540 L1965 700 Q1960 760 1930 775 L1762 835 Z" fill="none" stroke="#8a7338" stroke-width="5"/>
<ellipse cx="1830" cy="632" rx="22" ry="9" fill="#6e5b2b" transform="rotate(-28 1830 632)"/>
<path d="M1975 470 L1995 462 L2012 490 L2012 545 L1990 552 L1975 525 Z" fill="#7e6a36"/>
<path d="M1965 745 L2010 712 L2032 735 L2032 790 L1985 822 L1965 810 Z" fill="#2f3a3f"/>
<path d="M740 1005 L975 1135 L980 1610 L740 1490 Z" fill="#b9a265"/>
<path d="M740 1005 L975 1135 L975 1145 L740 1015 Z" fill="#e6dcc0"/>
<g fill="#fff"><rect x="272" y="815" width="16" height="28"/><rect x="272" y="955" width="16" height="28"/><rect x="272" y="1095" width="16" height="28"/><rect x="742" y="1085" width="14" height="28"/><rect x="742" y="1235" width="14" height="28"/><rect x="742" y="1385" width="14" height="28"/></g>
</g>
<g transform="translate(1020,660) scale(0.25857)">
<!-- big shield -->
<path d="M888 105 L940 70 Q1060 150 1165 160 Q1270 260 1398 338 Q1405 520 1370 620 Q1300 750 1175 785 L1120 785 Z" fill="#8a7338"/>
<path d="M888 105 L940 70 Q1060 150 1165 160 L1125 190 Q1010 195 888 105 Z" fill="#b9a265"/>
<path d="M1125 190 L1165 160 Q1270 260 1398 338 L1345 388 Q1230 290 1125 190 Z" fill="#6e5b2b"/>
<path d="M1345 388 L1398 338 Q1405 520 1370 620 Q1300 750 1175 785 L1120 785 Q1270 740 1335 580 Z" fill="url(#shg)"/>
<path d="M888 105 Q1010 195 1125 190 Q1230 290 1345 388 Q1350 520 1315 610 Q1250 740 1120 785 Q1010 700 940 520 Q880 340 888 105 Z" fill="#937c3e"/>
<path d="M915 155 Q1020 225 1118 222 Q1220 315 1318 400 Q1320 520 1290 600 Q1232 712 1125 752 Q1030 675 965 510 Q912 345 915 155 Z" fill="#822323"/>
<!-- padlock white -->
<path d="M1068 430 L1068 385 Q1072 328 1110 330 Q1160 345 1165 440 L1165 490" fill="none" stroke="#fff" stroke-width="24"/>
<path d="M1040 425 Q1040 408 1055 415 L1180 482 Q1192 490 1192 505 L1192 615 Q1192 635 1175 626 L1055 560 Q1040 552 1040 535 Z" fill="#fff"/>
<ellipse cx="1112" cy="498" rx="13" ry="16" fill="#822323"/><path d="M1106 505 L1118 510 L1120 548 L1108 542 Z" fill="#822323"/>
<!-- courier -->
<path d="M870 1385 Q885 1380 905 1395 L925 1425 Q920 1445 900 1435 Q875 1415 870 1385 Z" fill="#2f3a3f"/>
<path d="M1012 1390 L1050 1385 Q1085 1395 1092 1405 Q1075 1420 1050 1412 Q1025 1405 1012 1390 Z" fill="#2f3a3f"/>
<path d="M890 1115 L1042 1095 Q1035 1190 1012 1250 L1052 1388 L1015 1395 L965 1205 L912 1395 L870 1388 Q890 1250 890 1115 Z" fill="#822323"/>
<path d="M890 905 Q900 862 960 850 L1040 872 Q1050 980 1045 1100 Q970 1135 888 1118 Q880 1000 890 905 Z" fill="#6e5b2b"/>
<path d="M942 818 L1015 815 L1012 858 L985 872 L975 868 L960 860 Z" fill="#fcc9b9"/>
<path d="M938 800 L962 805 L958 845 L940 832 Z" fill="#6b6b6b"/>
<path d="M925 795 Q925 735 975 730 Q1022 738 1027 792 L980 812 L935 808 Z" fill="#6e5b2b"/>
<path d="M925 780 Q925 740 960 732 Q935 760 940 808 L925 800 Z" fill="#b9a265"/>
<path d="M978 790 L1028 782 L1048 798 L1040 810 L980 814 Z" fill="#b9a265"/>
<!-- box -->
<path d="M965 990 L1065 920 L1168 962 L1168 1040 L1060 1118 L975 1068 Z" fill="#d9b583"/>
<path d="M965 990 L1065 920 L1168 962 L1060 1035 Z" fill="#e8c99a"/>
<path d="M1060 1035 L1168 962 L1168 1040 L1060 1118 Z" fill="#c19f6c"/>
<path d="M1005 962 L1030 945 L1135 985 L1110 1002 Z" fill="#f1e4c7"/><path d="M1000 1008 L1025 1020 L1025 1050 L1000 1038 Z" fill="#f1e4c7"/>
<path d="M1060 1085 L1168 1010 L1168 1040 L1060 1118 Z" fill="#8a7338"/>
<!-- courier arm -->
<path d="M888 910 Q900 880 935 892 Q950 950 952 1010 L1005 1062 L985 1100 L905 1040 Q880 980 888 910 Z" fill="#822323"/>
<path d="M1000 1075 L1030 1078 L1038 1100 L1015 1112 L992 1098 Z" fill="#fcc9b9"/>
<!-- customer -->
<path d="M1312 1495 Q1330 1488 1350 1498 L1405 1515 Q1400 1532 1370 1530 Q1325 1520 1312 1495 Z" fill="#2f3a3f"/>
<path d="M1462 1465 L1508 1462 Q1512 1478 1490 1482 Q1470 1480 1462 1465 Z" fill="#2f3a3f"/>
<path d="M1375 1185 L1507 1165 Q1515 1330 1510 1468 L1465 1478 L1440 1300 L1405 1515 L1350 1500 Q1370 1330 1375 1185 Z" fill="#6e5b2b"/>
<path d="M1175 1078 Q1200 1058 1220 1062 L1335 1040 L1345 1072 L1228 1095 Q1200 1100 1180 1095 Z" fill="#fcc9b9"/>
<path d="M1250 1012 Q1265 1000 1285 1005 L1325 1000 L1320 1030 L1285 1035 Q1262 1035 1250 1025 Z" fill="#fcc9b9"/>
<path d="M1370 905 L1422 880 Q1500 920 1510 1005 L1507 1168 Q1440 1200 1375 1192 L1360 1082 L1320 1062 Q1325 1000 1345 960 Z" fill="#b9a265"/>
<path d="M1345 838 L1378 850 L1398 888 L1372 906 L1345 882 Z" fill="#fcc9b9"/>
<path d="M1325 815 Q1335 775 1385 780 Q1432 790 1428 850 L1402 892 L1375 872 L1365 845 L1345 850 Z" fill="#7a5c48"/>
<path d="M1368 908 L1420 880 L1432 890 L1380 920 Z" fill="#6e5b2b"/>
</g>

<g><path d="M2064.2 932.2 L2063.2 936.3 L2060.4 940.4 L2055.8 944.6 L2049.3 948.7 L1918.9 1021.0 L1911.5 1024.6 L1904.1 1027.2 L1896.6 1028.7 L1889.2 1029.3 L1881.8 1028.7 L1874.3 1027.2 L1866.9 1024.6 L1859.5 1021.0 L1729.0 948.7 L1722.5 944.6 L1717.9 940.4 L1715.1 936.3 L1714.1 932.2 L1714.1 911.2 L1715.1 915.3 L1717.9 919.4 L1722.5 923.6 L1729.0 927.7 L1859.5 1000.0 L1866.9 1003.6 L1874.3 1006.2 L1881.8 1007.7 L1889.2 1008.3 L1896.6 1007.7 L1904.1 1006.2 L1911.5 1003.6 L1918.9 1000.0 L2049.3 927.7 L2055.8 923.6 L2060.4 919.4 L2063.2 915.3 L2064.2 911.2Z" fill="url(#pg8)"/><path d="M1729.0 927.7 L1722.5 923.6 L1717.9 919.4 L1715.1 915.3 L1714.1 911.2 L1715.1 907.1 L1717.9 903.0 L1722.5 898.8 L1729.0 894.7 L1859.5 822.5 L1866.9 818.9 L1874.3 816.3 L1881.8 814.8 L1889.2 814.2 L1896.6 814.8 L1904.1 816.3 L1911.5 818.9 L1918.9 822.5 L2049.3 894.7 L2055.8 898.8 L2060.4 903.0 L2063.2 907.1 L2064.2 911.2 L2063.2 915.3 L2060.4 919.4 L2055.8 923.6 L2049.3 927.7 L1918.9 1000.0 L1911.5 1003.6 L1904.1 1006.2 L1896.6 1007.7 L1889.2 1008.3 L1881.8 1007.7 L1874.3 1006.2 L1866.9 1003.6 L1859.5 1000.0Z" fill="#fae9c4"/></g>
<g transform="translate(1680,740) scale(0.26144)">
<!-- scanner body -->
<path d="M385 470 L740 605 L740 882 L395 732 Z" fill="#b9a265"/>
<path d="M740 605 L1090 400 L1095 655 L740 882 Z" fill="#822323"/>
<path d="M740 605 L1088 400 L1090 470 L1030 495 L740 682 Z" fill="#e4e4e4"/>
<path d="M805 668 L1030 492 L1030 575 L975 720 L805 797 Z" fill="#1a1f3c"/>
<path d="M825 660 L965 555 L1120 610 L975 722 Z" fill="#ececec"/><path d="M825 660 L975 718 L975 726 L825 668 Z" fill="#bdbdbd"/>
<!-- control pill -->
<path d="M955 492 L1050 420" stroke="#2f3a3f" stroke-width="52" stroke-linecap="round"/>
<g fill="#b9a265"><ellipse cx="950" cy="488" rx="15" ry="17"/><ellipse cx="982" cy="464" rx="15" ry="17"/><ellipse cx="1013" cy="440" rx="15" ry="17"/><ellipse cx="1043" cy="417" rx="15" ry="17"/></g>
<!-- top -->
<path d="M385 432 L650 385 L1085 372 L740 572 Z" fill="#822323"/>
<path d="M740 572 L1085 372 L1085 400 L740 612 Z" fill="#6b1a1e"/>
<path d="M385 432 L740 572 L740 612 L385 475 Z" fill="#b5373f"/>
<path d="M455 428 L660 392 L950 440 L748 537 Z" fill="#e8e8e8"/>
<path d="M870 290 L921 248 L1083 314 L1085 372 L950 440 Z" fill="#822323"/>
<path d="M862 285 L900 275 L965 300 L930 312 Z" fill="#dcdcdc"/>
<path d="M640 396 L885 272 L1140 330 L975 456 Z" fill="#ececec"/><path d="M640 396 L975 452 L1140 328 L1140 334 L975 460 L640 400 Z" fill="#b5373f"/>
<g stroke="#822323" stroke-width="5"><path d="M820 398 L910 325 M858 405 L948 332 M896 412 L986 339 M934 419 L1024 346 M972 426 L1040 372"/></g>
<!-- lid -->
<path d="M385 415 L732 365 L1072 118 L1072 136 L735 385 L385 436 Z" fill="#b5373f"/>
<path d="M732 365 L1072 118 L1072 136 L735 385 Z" fill="#6b1a1e"/>
<path d="M385 415 L725 152 L1072 118 L732 365 Z" fill="#822323"/>
</g>
<g><path d="M2089.0 1009.3 L2088.6 1010.9 L2087.4 1012.4 L2085.4 1014.0 L2082.7 1015.5 L2044.2 1034.3 L2041.0 1035.6 L2037.9 1036.6 L2034.8 1037.1 L2031.6 1037.3 L2028.5 1037.0 L2025.4 1036.4 L2022.3 1035.4 L2019.1 1034.0 L1978.7 1013.2 L1976.0 1011.6 L1974.0 1010.0 L1972.9 1008.4 L1972.5 1006.9 L1972.5 998.9 L1972.9 1000.4 L1974.0 1002.0 L1976.0 1003.6 L1978.7 1005.2 L2019.1 1026.0 L2022.3 1027.4 L2025.4 1028.4 L2028.5 1029.0 L2031.6 1029.3 L2034.8 1029.1 L2037.9 1028.6 L2041.0 1027.6 L2044.2 1026.3 L2082.7 1007.5 L2085.4 1006.0 L2087.4 1004.4 L2088.6 1002.9 L2089.0 1001.3Z" fill="url(#pg9)"/><path d="M1978.7 1005.2 L1976.0 1003.6 L1974.0 1002.0 L1972.9 1000.4 L1972.5 998.9 L1972.9 997.3 L1974.1 995.8 L1976.1 994.2 L1978.8 992.7 L2017.2 974.0 L2020.4 972.7 L2023.5 971.7 L2026.6 971.2 L2029.8 971.0 L2032.9 971.3 L2036.0 971.9 L2039.1 972.9 L2042.3 974.3 L2082.8 995.0 L2085.5 996.6 L2087.5 998.2 L2088.6 999.8 L2089.0 1001.3 L2088.6 1002.9 L2087.4 1004.4 L2085.4 1006.0 L2082.7 1007.5 L2044.2 1026.3 L2041.0 1027.6 L2037.9 1028.6 L2034.8 1029.1 L2031.6 1029.3 L2028.5 1029.0 L2025.4 1028.4 L2022.3 1027.4 L2019.1 1026.0Z" fill="#f5deb0"/></g>
<g transform="translate(1680,740) scale(0.26144)">
<!-- operator -->
<path d="M1330 910 L1390 958 L1386 985 Q1365 992 1345 975 Z" fill="#111"/>
<path d="M1210 992 Q1235 978 1275 982 L1335 992 L1332 1028 Q1280 1035 1240 1025 Q1210 1015 1210 992 Z" fill="#111"/>
<path d="M1250 605 L1395 595 Q1385 720 1392 958 L1342 965 L1328 800 L1328 990 L1275 985 Q1232 780 1250 605 Z" fill="#822323"/>
<path d="M1250 605 L1275 612 Q1262 800 1295 988 L1275 985 Q1232 780 1250 605 Z" fill="#5c1619"/>
<path d="M1395 600 Q1380 650 1335 690 L1340 800 L1328 800 L1320 690 Q1370 650 1380 600 Z" fill="#5c1619"/>
<path d="M1305 310 L1338 322 L1342 362 L1368 380 L1330 392 L1310 352 Z" fill="#fcc9b9"/>
<path d="M1300 285 Q1310 250 1352 255 Q1402 265 1400 320 L1385 355 L1340 362 L1335 322 L1310 318 Z" fill="#0c0c0c"/>
<path d="M1110 432 L1130 440 L1150 462 L1165 435 L1178 440 L1185 475 L1172 498 L1140 480 Z" fill="#fcc9b9"/>
<path d="M1225 408 Q1250 395 1280 402 L1302 412 L1290 430 L1262 425 L1250 440 L1240 425 Z" fill="#fcc9b9"/>
<path d="M1335 390 L1412 355 Q1458 380 1456 445 L1440 512 L1398 522 L1392 600 Q1330 640 1250 612 L1246 562 L1170 512 L1182 470 L1255 502 L1292 430 Z" fill="#b9a265"/>
<path d="M1246 562 L1280 575 L1392 598 Q1330 640 1250 612 Z" fill="#8a7338"/>
</g>

<g transform="translate(1540,1190) scale(0.25246)">
<!-- monitor -->
<path d="M112 450 Q112 432 128 422 L700 90 Q720 80 735 88 Q748 95 748 115 L740 130 L150 470 L150 975 Q125 965 112 940 Z" fill="#b9a265"/>
<path d="M112 445 Q112 430 128 422 L700 90 Q720 80 735 88 L745 100 L150 450 Z" fill="#7e6a36"/>
<path d="M135 470 Q135 445 158 432 L720 108 Q748 95 748 125 L748 640 L165 972 Q135 985 135 955 Z" fill="#6b1a1e"/>
<path d="M150 458 L735 125 L735 632 L150 962 Z" fill="#fff"/>
<path d="M150 458 L735 125 L735 185 L150 518 Z" fill="#822323"/>
<path d="M178 470 L338 379" stroke="#fff" stroke-width="14" stroke-linecap="round"/>
<g stroke="#6e5b2b" stroke-width="10" fill="none"><path d="M435 478 L355 523 M435 502 L330 561 M435 526 L290 608 M435 550 L245 657 M435 574 L245 681 M435 598 L240 708 M435 622 L215 746 M435 646 L230 761 M435 670 L315 738"/></g>
<g stroke="#822323" stroke-width="10" fill="none"><path d="M435 478 L555 410 M435 502 L605 406 M435 526 L690 382 M435 550 L635 437 M435 574 L655 450 M435 598 L600 505 M435 622 L595 532 M435 646 L550 581 M435 670 L515 625"/></g>
<path d="M490 660 L558 622" stroke="#c4c4c4" stroke-width="5"/><circle cx="573" cy="610" r="7" fill="#f7c331"/>
<path d="M327 758 L395 720" stroke="#c4c4c4" stroke-width="5"/><circle cx="410" cy="708" r="7" fill="#3aa0e0"/>
<!-- scroll -->
<ellipse cx="535" cy="1115" rx="80" ry="68" fill="#fff"/>
<g stroke="#fff" stroke-width="12" stroke-linejoin="round">
<path d="M420 945 Q430 915 460 925 L580 855 L590 610 Q600 575 640 585 L855 435 Q900 430 905 470 L905 510 L845 545 L845 930 Q840 950 820 962 L590 1095 Q570 1125 530 1125 Q490 1120 488 1080 L488 1010 L425 1040 Z" fill="#fff"/>
</g>
<path d="M425 945 Q440 920 465 930 Q490 945 490 980 L425 1040 Z" fill="#6e5b2b"/>
<path d="M440 935 L585 850 L585 1095 Q570 1125 530 1122 Q492 1115 490 1080 L490 980 Q488 935 455 928 Z" fill="#b9a265"/>
<path d="M590 615 Q598 580 630 590 L845 470 L845 930 Q840 950 820 962 L590 1095 Z" fill="#6e5b2b"/>
<path d="M598 592 L855 438 Q895 430 905 468 L905 510 L652 658 Q650 600 625 588 Z" fill="#b9a265"/>
<path d="M590 620 Q600 580 630 590 Q652 605 652 658" fill="none" stroke="#fff" stroke-width="6"/>
<g stroke="#fff" stroke-width="16" stroke-linecap="round"><path d="M675 685 L768 632 M650 728 L790 650 M650 770 L790 692 M650 812 L790 734 M650 854 L770 787 M650 896 L790 818 M675 948 L768 895 M650 995 L790 917"/></g>
<!-- man outline on road -->
<path d="M930 1035 L1000 1050 L1070 1015 L1060 1395 L1005 1380 L1000 1430 L945 1425 Z" fill="#fff" stroke="#fff" stroke-width="70" stroke-linejoin="round"/>
</g>
<g><path d="M1863.1 1559.8 L1862.7 1561.7 L1861.3 1563.7 L1859.1 1565.5 L1855.9 1567.4 L1801.6 1595.8 L1798.0 1597.4 L1794.5 1598.6 L1791.0 1599.2 L1787.4 1599.5 L1783.9 1599.2 L1780.4 1598.5 L1776.8 1597.3 L1773.3 1595.6 L1718.9 1566.4 L1715.8 1564.5 L1713.6 1562.6 L1712.2 1560.7 L1711.8 1558.7 L1711.8 1549.7 L1712.2 1551.7 L1713.6 1553.6 L1715.8 1555.5 L1718.9 1557.4 L1773.3 1586.6 L1776.8 1588.3 L1780.4 1589.5 L1783.9 1590.2 L1787.4 1590.5 L1791.0 1590.2 L1794.5 1589.6 L1798.0 1588.4 L1801.6 1586.8 L1855.9 1558.4 L1859.1 1556.5 L1861.3 1554.7 L1862.7 1552.7 L1863.1 1550.8Z" fill="url(#pg10)"/><path d="M1718.9 1557.4 L1715.8 1555.5 L1713.6 1553.6 L1712.2 1551.7 L1711.8 1549.7 L1712.2 1547.8 L1713.5 1545.9 L1715.7 1543.9 L1718.7 1542.0 L1774.7 1510.6 L1778.2 1508.9 L1781.7 1507.7 L1785.2 1507.0 L1788.7 1506.8 L1792.1 1507.1 L1795.6 1507.9 L1799.0 1509.2 L1802.5 1511.0 L1856.4 1542.8 L1859.4 1544.9 L1861.5 1546.9 L1862.8 1548.9 L1863.1 1550.8 L1862.7 1552.7 L1861.3 1554.7 L1859.1 1556.5 L1855.9 1558.4 L1801.6 1586.8 L1798.0 1588.4 L1794.5 1589.6 L1791.0 1590.2 L1787.4 1590.5 L1783.9 1590.2 L1780.4 1589.5 L1776.8 1588.3 L1773.3 1586.6Z" fill="#fae9c4"/></g>
<g transform="translate(1540,1190) scale(0.25246)">
<path d="M1003 1372 L1062 1392 L1065 1415 Q1040 1425 1015 1410 Z" fill="#0c0c0c"/>
<path d="M880 1422 Q905 1408 945 1412 L1000 1430 L995 1458 Q950 1462 910 1448 Q880 1440 880 1422 Z" fill="#0c0c0c"/>
<path d="M930 1030 L1072 1010 Q1075 1200 1060 1395 L1005 1380 L1000 1432 L945 1425 Q925 1230 930 1030 Z" fill="#822323"/>
<path d="M940 690 L975 700 L992 745 L1012 770 L965 788 L945 742 Z" fill="#fcc9b9"/>
<path d="M945 668 Q955 635 1000 640 Q1052 650 1050 708 L1030 757 L990 747 L975 702 L950 700 Z" fill="#1f2438"/>
<path d="M757 838 L775 845 L800 862 L815 835 L828 845 L832 880 L815 905 L775 872 Z" fill="#fcc9b9"/>
<path d="M885 785 Q910 770 940 780 L962 795 L945 818 L918 805 L900 815 Z" fill="#fcc9b9"/>
<path d="M985 792 L1045 762 Q1082 775 1083 832 L1072 1020 Q1000 1060 930 1036 L925 968 L815 906 L832 875 L905 902 L950 812 Z" fill="#b9a265"/>
<path d="M978 790 L1040 760 L1050 775 L990 802 Z" fill="#6e5b2b"/>
</g>

<g><path d="M1335.6 1497.9 L1334.8 1501.3 L1332.4 1504.7 L1328.5 1508.1 L1323.1 1511.4 L1233.7 1559.2 L1227.5 1562.1 L1221.4 1564.1 L1215.3 1565.2 L1209.2 1565.5 L1203.1 1564.9 L1197.0 1563.5 L1191.0 1561.2 L1184.9 1558.1 L986.8 1440.1 L981.6 1436.6 L977.9 1433.0 L975.6 1429.5 L975.0 1426.1 L975.0 1409.1 L975.6 1412.5 L977.9 1416.0 L981.6 1419.6 L986.8 1423.1 L1184.9 1541.1 L1191.0 1544.2 L1197.0 1546.5 L1203.1 1547.9 L1209.2 1548.5 L1215.3 1548.2 L1221.4 1547.1 L1227.5 1545.1 L1233.7 1542.2 L1323.1 1494.4 L1328.5 1491.1 L1332.4 1487.7 L1334.8 1484.3 L1335.6 1480.9Z" fill="url(#pg11)"/><path d="M986.8 1423.1 L981.6 1419.6 L977.9 1416.0 L975.6 1412.5 L975.0 1409.1 L975.8 1405.7 L978.2 1402.3 L982.1 1398.9 L987.5 1395.6 L1076.9 1347.8 L1083.1 1344.9 L1089.2 1342.9 L1095.3 1341.8 L1101.4 1341.5 L1107.5 1342.1 L1113.6 1343.5 L1119.6 1345.8 L1125.7 1348.9 L1323.8 1466.9 L1329.0 1470.4 L1332.7 1474.0 L1335.0 1477.5 L1335.6 1480.9 L1334.8 1484.3 L1332.4 1487.7 L1328.5 1491.1 L1323.1 1494.4 L1233.7 1542.2 L1227.5 1545.1 L1221.4 1547.1 L1215.3 1548.2 L1209.2 1548.5 L1203.1 1547.9 L1197.0 1546.5 L1191.0 1544.2 L1184.9 1541.1Z" fill="#fae9c4"/></g>
<g transform="translate(940,1220) scale(0.25862)">
<path d="M345 240 L628 78 L945 262 L660 425 Z" fill="#8f783b"/><path d="M345 240 L660 425 L660 935 L345 750 Z" fill="#6e5b2b"/><path d="M660 425 L945 262 L945 770 L660 935 Z" fill="#b9a265"/><path d="M420 325 L585 420 L585 502 L420 407 Z" fill="#fae9c4"/><path d="M435 350 L573 429 L573 480 L435 401 Z" fill="#b9a265"/><path d="M613 452 L629 461" stroke="#b9a265" stroke-width="3"/><path d="M613 460 L629 469" stroke="#b9a265" stroke-width="3"/><path d="M613 468 L629 477" stroke="#b9a265" stroke-width="3"/><path d="M613 476 L629 485" stroke="#b9a265" stroke-width="3"/><path d="M613 484 L629 493" stroke="#b9a265" stroke-width="3"/><path d="M613 492 L629 501" stroke="#b9a265" stroke-width="3"/><path d="M613 500 L629 509" stroke="#b9a265" stroke-width="3"/><path d="M420 500 L585 595 L585 677 L420 582 Z" fill="#fae9c4"/><path d="M435 525 L573 604 L573 655 L435 576 Z" fill="#b9a265"/><path d="M613 627 L629 636" stroke="#b9a265" stroke-width="3"/><path d="M613 635 L629 644" stroke="#b9a265" stroke-width="3"/><path d="M613 643 L629 652" stroke="#b9a265" stroke-width="3"/><path d="M613 651 L629 660" stroke="#b9a265" stroke-width="3"/><path d="M613 659 L629 668" stroke="#b9a265" stroke-width="3"/><path d="M613 667 L629 676" stroke="#b9a265" stroke-width="3"/><path d="M613 675 L629 684" stroke="#b9a265" stroke-width="3"/><path d="M420 675 L585 770 L585 852 L420 757 Z" fill="#fae9c4"/><path d="M435 700 L573 779 L573 830 L435 751 Z" fill="#b9a265"/><path d="M613 802 L629 811" stroke="#b9a265" stroke-width="3"/><path d="M613 810 L629 819" stroke="#b9a265" stroke-width="3"/><path d="M613 818 L629 827" stroke="#b9a265" stroke-width="3"/><path d="M613 826 L629 835" stroke="#b9a265" stroke-width="3"/><path d="M613 834 L629 843" stroke="#b9a265" stroke-width="3"/><path d="M613 842 L629 851" stroke="#b9a265" stroke-width="3"/><path d="M613 850 L629 859" stroke="#b9a265" stroke-width="3"/><path d="M345 407 L660 592 L945 429" fill="none" stroke="#fff" stroke-width="13"/><path d="M345 579 L660 764 L945 601" fill="none" stroke="#fff" stroke-width="13"/>
<path d="M748 490 L1031 328 L1348 512 L1063 675 Z" fill="#8f783b"/><path d="M748 490 L1063 675 L1063 1185 L748 1000 Z" fill="#6e5b2b"/><path d="M1063 675 L1348 512 L1348 1020 L1063 1185 Z" fill="#b9a265"/><path d="M823 575 L988 670 L988 752 L823 657 Z" fill="#fae9c4"/><path d="M838 600 L976 679 L976 730 L838 651 Z" fill="#b9a265"/><path d="M1016 702 L1032 711" stroke="#b9a265" stroke-width="3"/><path d="M1016 710 L1032 719" stroke="#b9a265" stroke-width="3"/><path d="M1016 718 L1032 727" stroke="#b9a265" stroke-width="3"/><path d="M1016 726 L1032 735" stroke="#b9a265" stroke-width="3"/><path d="M1016 734 L1032 743" stroke="#b9a265" stroke-width="3"/><path d="M1016 742 L1032 751" stroke="#b9a265" stroke-width="3"/><path d="M1016 750 L1032 759" stroke="#b9a265" stroke-width="3"/><path d="M776 550 L792 559" stroke="#b9a265" stroke-width="3"/><path d="M776 558 L792 567" stroke="#b9a265" stroke-width="3"/><path d="M776 566 L792 575" stroke="#b9a265" stroke-width="3"/><path d="M776 574 L792 583" stroke="#b9a265" stroke-width="3"/><path d="M776 582 L792 591" stroke="#b9a265" stroke-width="3"/><path d="M776 590 L792 599" stroke="#b9a265" stroke-width="3"/><path d="M776 598 L792 607" stroke="#b9a265" stroke-width="3"/><path d="M878 640 L933 672" stroke="#fae9c4" stroke-width="5" stroke-dasharray="14 6"/><path d="M823 750 L988 845 L988 927 L823 832 Z" fill="#fae9c4"/><path d="M838 775 L976 854 L976 905 L838 826 Z" fill="#b9a265"/><path d="M1016 877 L1032 886" stroke="#b9a265" stroke-width="3"/><path d="M1016 885 L1032 894" stroke="#b9a265" stroke-width="3"/><path d="M1016 893 L1032 902" stroke="#b9a265" stroke-width="3"/><path d="M1016 901 L1032 910" stroke="#b9a265" stroke-width="3"/><path d="M1016 909 L1032 918" stroke="#b9a265" stroke-width="3"/><path d="M1016 917 L1032 926" stroke="#b9a265" stroke-width="3"/><path d="M1016 925 L1032 934" stroke="#b9a265" stroke-width="3"/><path d="M776 725 L792 734" stroke="#b9a265" stroke-width="3"/><path d="M776 733 L792 742" stroke="#b9a265" stroke-width="3"/><path d="M776 741 L792 750" stroke="#b9a265" stroke-width="3"/><path d="M776 749 L792 758" stroke="#b9a265" stroke-width="3"/><path d="M776 757 L792 766" stroke="#b9a265" stroke-width="3"/><path d="M776 765 L792 774" stroke="#b9a265" stroke-width="3"/><path d="M776 773 L792 782" stroke="#b9a265" stroke-width="3"/><path d="M878 815 L933 847" stroke="#fae9c4" stroke-width="5" stroke-dasharray="14 6"/><path d="M823 925 L988 1020 L988 1102 L823 1007 Z" fill="#fae9c4"/><path d="M838 950 L976 1029 L976 1080 L838 1001 Z" fill="#b9a265"/><path d="M1016 1052 L1032 1061" stroke="#b9a265" stroke-width="3"/><path d="M1016 1060 L1032 1069" stroke="#b9a265" stroke-width="3"/><path d="M1016 1068 L1032 1077" stroke="#b9a265" stroke-width="3"/><path d="M1016 1076 L1032 1085" stroke="#b9a265" stroke-width="3"/><path d="M1016 1084 L1032 1093" stroke="#b9a265" stroke-width="3"/><path d="M1016 1092 L1032 1101" stroke="#b9a265" stroke-width="3"/><path d="M1016 1100 L1032 1109" stroke="#b9a265" stroke-width="3"/><path d="M776 900 L792 909" stroke="#b9a265" stroke-width="3"/><path d="M776 908 L792 917" stroke="#b9a265" stroke-width="3"/><path d="M776 916 L792 925" stroke="#b9a265" stroke-width="3"/><path d="M776 924 L792 933" stroke="#b9a265" stroke-width="3"/><path d="M776 932 L792 941" stroke="#b9a265" stroke-width="3"/><path d="M776 940 L792 949" stroke="#b9a265" stroke-width="3"/><path d="M776 948 L792 957" stroke="#b9a265" stroke-width="3"/><path d="M878 990 L933 1022" stroke="#fae9c4" stroke-width="5" stroke-dasharray="14 6"/><path d="M748 657 L1063 842 L1348 679" fill="none" stroke="#fff" stroke-width="13"/><path d="M748 829 L1063 1014 L1348 851" fill="none" stroke="#fff" stroke-width="13"/>
</g>
<g><path d="M686.9 1465.6 L686.0 1469.2 L683.5 1472.8 L679.3 1476.4 L673.5 1479.9 L531.0 1555.8 L524.4 1558.9 L517.8 1561.0 L511.2 1562.3 L504.6 1562.6 L498.1 1562.0 L491.6 1560.6 L485.0 1558.2 L478.5 1554.9 L350.0 1480.3 L344.3 1476.6 L340.3 1472.9 L337.9 1469.2 L337.1 1465.5 L337.1 1450.5 L337.9 1454.2 L340.3 1457.9 L344.3 1461.6 L350.0 1465.3 L478.5 1539.9 L485.0 1543.2 L491.6 1545.6 L498.1 1547.0 L504.6 1547.6 L511.2 1547.3 L517.8 1546.0 L524.4 1543.9 L531.0 1540.8 L673.5 1464.9 L679.3 1461.4 L683.5 1457.8 L686.0 1454.2 L686.9 1450.6Z" fill="url(#pg12)"/><path d="M350.0 1465.3 L344.3 1461.6 L340.3 1457.9 L337.9 1454.2 L337.1 1450.5 L338.0 1446.9 L340.5 1443.3 L344.7 1439.7 L350.5 1436.2 L493.2 1360.3 L499.8 1357.2 L506.4 1355.1 L513.0 1353.8 L519.6 1353.5 L526.1 1354.1 L532.6 1355.5 L539.2 1357.9 L545.6 1361.3 L674.0 1435.7 L679.7 1439.5 L683.7 1443.2 L686.1 1446.9 L686.9 1450.6 L686.0 1454.2 L683.5 1457.8 L679.3 1461.4 L673.5 1464.9 L531.0 1540.8 L524.4 1543.9 L517.8 1546.0 L511.2 1547.3 L504.6 1547.6 L498.1 1547.0 L491.6 1545.6 L485.0 1543.2 L478.5 1539.9Z" fill="#fae9c4"/></g>
<g transform="translate(320,1260) scale(0.18476)">
<path d="M220 590 L735 790 L750 1190 L235 965 Z" fill="#b9a265"/>
<path d="M735 790 L1225 500 L1240 870 L750 1190 Z" fill="#822323"/>
<path d="M735 790 L1225 500 L1228 585 L735 898 Z" fill="#e4e4e4"/>
<path d="M820 870 L1138 615 L1145 770 L830 1060 Z" fill="#1a1f3c"/>
<!-- top -->
<path d="M220 535 L700 440 L990 270 L1225 355 L1225 500 L735 790 L220 590 Z" fill="#822323"/>
<path d="M735 735 L1225 440 L1225 500 L735 790 Z" fill="#6b1a1e"/>
<path d="M220 535 L735 735 L735 790 L220 590 Z" fill="#b5373f"/>
<path d="M330 520 L700 455 L920 305 L1225 420 L1225 470 L735 682 Z" fill="#e8e8e8"/>
<path d="M735 682 L1225 420 L1225 445 L735 735 Z" fill="#822323"/>
<path d="M1045 615 L1170 522" stroke="#2f3a3f" stroke-width="60" stroke-linecap="round"/>
<g fill="none" stroke="#e4e4e4" stroke-width="9"><ellipse cx="1050" cy="606" rx="17" ry="20"/><ellipse cx="1098" cy="572" rx="17" ry="20"/><ellipse cx="1145" cy="538" rx="17" ry="20"/></g>
<!-- paper -->
<path d="M590 476 L940 335 L1300 388 L1235 445 L1215 470 L1200 520 L1150 510 L1120 545 L1070 535 L1040 560 Z" fill="#b9a265"/>
<g stroke="#fff" stroke-width="7"><path d="M848 490 L975 385 M895 498 L1025 390 M942 505 L1075 397 M990 512 L1122 405 M1038 520 L1168 413"/></g>
<!-- lid -->
<path d="M220 515 L720 435 L1205 80 L1205 105 L725 462 L220 542 Z" fill="#b5373f"/>
<path d="M720 435 L1205 80 L1205 105 L725 462 Z" fill="#6b1a1e"/>
<path d="M220 515 L705 130 L1205 80 L720 435 Z" fill="#822323"/>
<!-- shredded -->
<path d="M870 870 L1100 730 L1135 745 L1180 728 L1225 770 L1280 775 L1300 805 L1345 798 L1380 830 L1415 822 L1432 855 L1400 880 L1412 930 L1365 935 L1345 965 L1320 975 L1305 1025 L1250 1010 L1200 1022 L1160 1000 L1140 1032 L1110 985 L1060 968 L1010 972 L1020 950 L930 935 L905 965 Z" fill="#b9a265"/>
<g fill="#b9a265"><path d="M1175 1050 L1200 1040 L1215 1085 L1190 1080 Z"/><path d="M1235 1045 L1265 1035 L1260 1060 L1240 1065 Z"/><path d="M1310 1040 L1345 1025 L1340 1045 L1315 1055 Z"/><path d="M1355 990 L1390 985 L1375 1015 L1355 1020 Z"/><path d="M1290 1085 L1310 1075 L1305 1120 L1285 1140 Z"/><path d="M1235 1120 L1255 1110 L1250 1140 L1230 1165 Z"/><path d="M1170 1125 L1195 1115 L1190 1135 Z"/><path d="M1335 1130 L1350 1125 L1352 1155 Z"/><path d="M1325 1070 L1350 1065 L1340 1080 Z"/><path d="M1245 1080 L1262 1078 L1255 1095 Z"/></g>
</g>

<g>
<text x="522.7" y="170.5" font-size="43.5" textLength="167.6" lengthAdjust="spacingAndGlyphs" fill="#6e5b2b" filter="url(#lbl)">CUSTOMER</text>
<text x="543.0" y="212.5" font-size="43.5" textLength="128.1" lengthAdjust="spacingAndGlyphs" fill="#6e5b2b" filter="url(#lbl)">SERVICE</text>
<text x="1212.1" y="170.5" font-size="43.5" textLength="292.5" lengthAdjust="spacingAndGlyphs" fill="#6e5b2b" filter="url(#lbl)">CUSTOMER DRIVEN</text>
<text x="1250.4" y="212.5" font-size="43.5" textLength="217.2" lengthAdjust="spacingAndGlyphs" fill="#6e5b2b" filter="url(#lbl)">DEVELOPMENT</text>
<text x="1863.5" y="170.0" font-size="43.5" textLength="348.5" lengthAdjust="spacingAndGlyphs" fill="#6e5b2b" filter="url(#lbl)">RECORD MANAGEMENT</text>
<text x="1957.7" y="212.5" font-size="43.5" textLength="159.9" lengthAdjust="spacingAndGlyphs" fill="#6e5b2b" filter="url(#lbl)">SOFTWARE</text>
<text x="490.7" y="1104.5" font-size="43.5" textLength="281.7" lengthAdjust="spacingAndGlyphs" fill="#6e5b2b" filter="url(#lbl)">DATA PROTECTION</text>
<text x="527.3" y="1147.5" font-size="43.5" textLength="209.1" lengthAdjust="spacingAndGlyphs" fill="#6e5b2b" filter="url(#lbl)">AND PRIVACY</text>
<text x="1090.3" y="1119.5" font-size="43.5" textLength="425.5" lengthAdjust="spacingAndGlyphs" fill="#6e5b2b" filter="url(#lbl)">SECURE RECORDS PACKING</text>
<text x="1159.3" y="1163.0" font-size="43.5" textLength="286.8" lengthAdjust="spacingAndGlyphs" fill="#6e5b2b" filter="url(#lbl)">&amp; TRANPORTATION</text>
<text x="1753.2" y="1118.5" font-size="43.5" textLength="295.1" lengthAdjust="spacingAndGlyphs" fill="#6e5b2b" filter="url(#lbl)">RECORD SCANNING</text>
<text x="1762.7" y="1163.0" font-size="43.5" textLength="276.6" lengthAdjust="spacingAndGlyphs" fill="#6e5b2b" filter="url(#lbl)">AND DIGITIZATION</text>
<text x="344.7" y="1639.5" font-size="43.5" textLength="343.1" lengthAdjust="spacingAndGlyphs" fill="#6e5b2b" filter="url(#lbl)">SECURE DESTRUCTION</text>
<text x="1072.2" y="1642.0" font-size="43.5" textLength="277.5" lengthAdjust="spacingAndGlyphs" fill="#6e5b2b" filter="url(#lbl)">RECORD STORAGE</text>
<text x="1637.7" y="1639.5" font-size="43.5" textLength="377.9" lengthAdjust="spacingAndGlyphs" fill="#6e5b2b" filter="url(#lbl)">FAST RECORDS REQUEST</text>
</g>
</svg>
</body></html>
